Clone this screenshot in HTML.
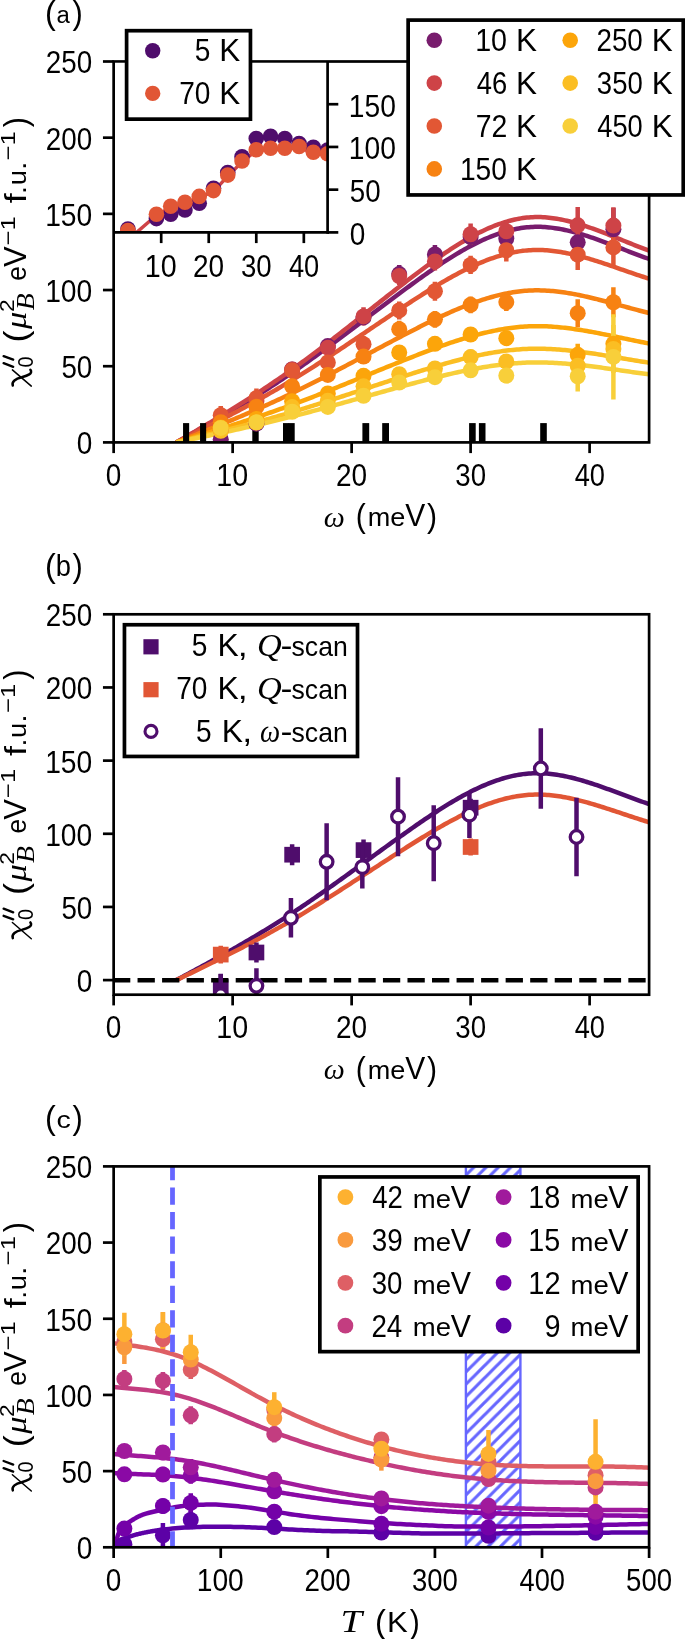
<!DOCTYPE html><html><head><meta charset="utf-8"><title>chi</title><style>html,body{margin:0;padding:0;background:#fff;}body{width:685px;height:1639px;overflow:hidden;font-family:"Liberation Sans",sans-serif;}svg{display:block;will-change:transform;}</style></head><body><svg width="685" height="1639" viewBox="0 0 685 1639"><defs><clipPath id="ca"><rect x="113.65" y="61.5" width="535.45" height="380.9"/></clipPath><clipPath id="ci"><rect x="113.65" y="61.5" width="213.95" height="170.9"/></clipPath><clipPath id="cb"><rect x="113.65" y="614.3" width="535.45" height="380.4"/></clipPath><clipPath id="cc"><rect x="113.65" y="1166.4" width="535.45" height="380.9"/></clipPath><pattern id="hatch" patternUnits="userSpaceOnUse" width="12.3" height="12.3" patternTransform="translate(5.2 0)"><path d="M-3 3 L3 -3 M0 12.3 L12.3 0 M9.3 15.3 L15.3 9.3" stroke="#6666ff" stroke-width="3.1"/></pattern></defs><rect width="685" height="1639" fill="#fff"/><path d="M176.36 442.4 L178.36 441.28 L180.36 440.17 L182.37 439.05 L184.37 437.93 L186.37 436.81 L188.37 435.68 L190.38 434.56 L192.38 433.43 L194.38 432.31 L196.39 431.18 L198.39 430.05 L200.39 428.91 L202.39 427.78 L204.4 426.64 L206.4 425.5 L208.4 424.36 L210.41 423.21 L212.41 422.06 L214.41 420.91 L216.42 419.76 L218.42 418.6 L220.42 417.44 L222.42 416.27 L224.43 415.1 L226.43 413.93 L228.43 412.76 L230.44 411.58 L232.44 410.39 L234.44 409.2 L236.44 408.01 L238.45 406.81 L240.45 405.61 L242.45 404.41 L244.46 403.19 L246.46 401.98 L248.46 400.76 L250.46 399.53 L252.47 398.3 L254.47 397.06 L256.47 395.82 L258.48 394.57 L260.48 393.31 L262.48 392.05 L264.48 390.79 L266.49 389.51 L268.49 388.23 L270.49 386.95 L272.5 385.66 L274.5 384.36 L276.5 383.05 L278.5 381.74 L280.51 380.42 L282.51 379.09 L284.51 377.75 L286.52 376.41 L288.52 375.06 L290.52 373.7 L292.53 372.34 L294.53 370.97 L296.53 369.58 L298.53 368.2 L300.54 366.8 L302.54 365.4 L304.54 363.99 L306.55 362.57 L308.55 361.15 L310.55 359.72 L312.55 358.28 L314.56 356.84 L316.56 355.4 L318.56 353.95 L320.57 352.49 L322.57 351.03 L324.57 349.56 L326.57 348.09 L328.58 346.62 L330.58 345.14 L332.58 343.65 L334.59 342.17 L336.59 340.68 L338.59 339.18 L340.59 337.69 L342.6 336.19 L344.6 334.69 L346.6 333.18 L348.61 331.68 L350.61 330.17 L352.61 328.66 L354.61 327.15 L356.62 325.64 L358.62 324.12 L360.62 322.61 L362.63 321.09 L364.63 319.58 L366.63 318.06 L368.64 316.55 L370.64 315.03 L372.64 313.52 L374.64 312 L376.65 310.49 L378.65 308.98 L380.65 307.47 L382.66 305.96 L384.66 304.45 L386.66 302.95 L388.66 301.44 L390.67 299.94 L392.67 298.44 L394.67 296.95 L396.68 295.46 L398.68 293.97 L400.68 292.48 L402.68 291 L404.69 289.52 L406.69 288.05 L408.69 286.58 L410.7 285.11 L412.7 283.65 L414.7 282.2 L416.7 280.75 L418.71 279.3 L420.71 277.87 L422.71 276.44 L424.72 275.02 L426.72 273.61 L428.72 272.21 L430.73 270.81 L432.73 269.43 L434.73 268.06 L436.73 266.7 L438.74 265.36 L440.74 264.03 L442.74 262.71 L444.75 261.4 L446.75 260.11 L448.75 258.83 L450.75 257.57 L452.76 256.33 L454.76 255.11 L456.76 253.9 L458.77 252.71 L460.77 251.54 L462.77 250.38 L464.77 249.25 L466.78 248.14 L468.78 247.05 L470.78 245.98 L472.79 244.94 L474.79 243.91 L476.79 242.91 L478.79 241.94 L480.8 240.99 L482.8 240.06 L484.8 239.16 L486.81 238.29 L488.81 237.45 L490.81 236.63 L492.81 235.84 L494.82 235.08 L496.82 234.35 L498.82 233.65 L500.83 232.98 L502.83 232.34 L504.83 231.73 L506.84 231.15 L508.84 230.61 L510.84 230.1 L512.84 229.63 L514.85 229.19 L516.85 228.79 L518.85 228.42 L520.86 228.09 L522.86 227.79 L524.86 227.53 L526.86 227.32 L528.87 227.14 L530.87 227 L532.87 226.9 L534.88 226.83 L536.88 226.81 L538.88 226.82 L540.88 226.87 L542.89 226.96 L544.89 227.08 L546.89 227.23 L548.9 227.41 L550.9 227.63 L552.9 227.88 L554.9 228.15 L556.91 228.46 L558.91 228.79 L560.91 229.16 L562.92 229.54 L564.92 229.96 L566.92 230.4 L568.92 230.86 L570.93 231.34 L572.93 231.85 L574.93 232.38 L576.94 232.93 L578.94 233.5 L580.94 234.09 L582.95 234.69 L584.95 235.31 L586.95 235.95 L588.95 236.61 L590.96 237.27 L592.96 237.96 L594.96 238.65 L596.97 239.36 L598.97 240.07 L600.97 240.8 L602.97 241.53 L604.98 242.28 L606.98 243.03 L608.98 243.79 L610.99 244.55 L612.99 245.32 L614.99 246.09 L616.99 246.86 L619 247.64 L621 248.42 L623 249.2 L625.01 249.98 L627.01 250.75 L629.01 251.53 L631.01 252.3 L633.02 253.07 L635.02 253.83 L637.02 254.59 L639.03 255.34 L641.03 256.08 L643.03 256.81 L645.03 257.54 L647.04 258.25 L649.04 258.96 L651.04 259.65 L653.05 260.33 L655.05 261" fill="none" stroke="#781c6d" stroke-width="4.5" stroke-linejoin="round" stroke-linecap="butt" clip-path="url(#ca)"/>
<path d="M176.36 442.4 L178.36 441.23 L180.36 440.06 L182.37 438.9 L184.37 437.72 L186.37 436.55 L188.37 435.38 L190.38 434.2 L192.38 433.03 L194.38 431.85 L196.39 430.67 L198.39 429.49 L200.39 428.3 L202.39 427.12 L204.4 425.93 L206.4 424.74 L208.4 423.54 L210.41 422.34 L212.41 421.14 L214.41 419.94 L216.42 418.73 L218.42 417.52 L220.42 416.31 L222.42 415.09 L224.43 413.87 L226.43 412.64 L228.43 411.42 L230.44 410.18 L232.44 408.94 L234.44 407.7 L236.44 406.46 L238.45 405.2 L240.45 403.95 L242.45 402.69 L244.46 401.42 L246.46 400.15 L248.46 398.87 L250.46 397.59 L252.47 396.3 L254.47 395.01 L256.47 393.71 L258.48 392.4 L260.48 391.09 L262.48 389.78 L264.48 388.45 L266.49 387.12 L268.49 385.78 L270.49 384.44 L272.5 383.09 L274.5 381.73 L276.5 380.37 L278.5 378.99 L280.51 377.61 L282.51 376.23 L284.51 374.83 L286.52 373.43 L288.52 372.02 L290.52 370.6 L292.53 369.17 L294.53 367.73 L296.53 366.29 L298.53 364.84 L300.54 363.38 L302.54 361.91 L304.54 360.44 L306.55 358.96 L308.55 357.47 L310.55 355.98 L312.55 354.48 L314.56 352.97 L316.56 351.46 L318.56 349.95 L320.57 348.42 L322.57 346.89 L324.57 345.36 L326.57 343.82 L328.58 342.28 L330.58 340.74 L332.58 339.19 L334.59 337.63 L336.59 336.08 L338.59 334.51 L340.59 332.95 L342.6 331.38 L344.6 329.81 L346.6 328.24 L348.61 326.67 L350.61 325.09 L352.61 323.51 L354.61 321.94 L356.62 320.35 L358.62 318.77 L360.62 317.19 L362.63 315.61 L364.63 314.02 L366.63 312.44 L368.64 310.86 L370.64 309.27 L372.64 307.69 L374.64 306.11 L376.65 304.52 L378.65 302.94 L380.65 301.37 L382.66 299.79 L384.66 298.21 L386.66 296.64 L388.66 295.07 L390.67 293.5 L392.67 291.93 L394.67 290.37 L396.68 288.81 L398.68 287.25 L400.68 285.7 L402.68 284.15 L404.69 282.61 L406.69 281.06 L408.69 279.53 L410.7 278 L412.7 276.47 L414.7 274.95 L416.7 273.43 L418.71 271.93 L420.71 270.43 L422.71 268.93 L424.72 267.45 L426.72 265.97 L428.72 264.51 L430.73 263.05 L432.73 261.61 L434.73 260.18 L436.73 258.76 L438.74 257.35 L440.74 255.96 L442.74 254.58 L444.75 253.21 L446.75 251.86 L448.75 250.53 L450.75 249.21 L452.76 247.92 L454.76 246.63 L456.76 245.37 L458.77 244.13 L460.77 242.9 L462.77 241.7 L464.77 240.52 L466.78 239.35 L468.78 238.21 L470.78 237.1 L472.79 236.01 L474.79 234.94 L476.79 233.89 L478.79 232.87 L480.8 231.88 L482.8 230.91 L484.8 229.97 L486.81 229.06 L488.81 228.18 L490.81 227.32 L492.81 226.5 L494.82 225.7 L496.82 224.94 L498.82 224.2 L500.83 223.5 L502.83 222.83 L504.83 222.2 L506.84 221.6 L508.84 221.03 L510.84 220.5 L512.84 220.01 L514.85 219.55 L516.85 219.12 L518.85 218.74 L520.86 218.39 L522.86 218.08 L524.86 217.82 L526.86 217.59 L528.87 217.4 L530.87 217.25 L532.87 217.15 L534.88 217.09 L536.88 217.06 L538.88 217.07 L540.88 217.12 L542.89 217.21 L544.89 217.34 L546.89 217.5 L548.9 217.69 L550.9 217.91 L552.9 218.17 L554.9 218.46 L556.91 218.78 L558.91 219.13 L560.91 219.51 L562.92 219.92 L564.92 220.35 L566.92 220.81 L568.92 221.29 L570.93 221.8 L572.93 222.33 L574.93 222.88 L576.94 223.46 L578.94 224.05 L580.94 224.67 L582.95 225.3 L584.95 225.95 L586.95 226.62 L588.95 227.3 L590.96 228 L592.96 228.71 L594.96 229.43 L596.97 230.17 L598.97 230.92 L600.97 231.68 L602.97 232.45 L604.98 233.23 L606.98 234.01 L608.98 234.8 L610.99 235.6 L612.99 236.4 L614.99 237.21 L616.99 238.02 L619 238.83 L621 239.64 L623 240.46 L625.01 241.27 L627.01 242.08 L629.01 242.89 L631.01 243.7 L633.02 244.5 L635.02 245.3 L637.02 246.09 L639.03 246.87 L641.03 247.65 L643.03 248.42 L645.03 249.18 L647.04 249.93 L649.04 250.66 L651.04 251.39 L653.05 252.1 L655.05 252.79" fill="none" stroke="#ce4347" stroke-width="4.5" stroke-linejoin="round" stroke-linecap="butt" clip-path="url(#ca)"/>
<path d="M176.36 442.4 L178.36 441.4 L180.36 440.41 L182.37 439.41 L184.37 438.41 L186.37 437.41 L188.37 436.4 L190.38 435.4 L192.38 434.4 L194.38 433.39 L196.39 432.38 L198.39 431.37 L200.39 430.36 L202.39 429.35 L204.4 428.33 L206.4 427.32 L208.4 426.29 L210.41 425.27 L212.41 424.25 L214.41 423.22 L216.42 422.19 L218.42 421.16 L220.42 420.12 L222.42 419.08 L224.43 418.04 L226.43 416.99 L228.43 415.94 L230.44 414.89 L232.44 413.83 L234.44 412.77 L236.44 411.71 L238.45 410.64 L240.45 409.56 L242.45 408.49 L244.46 407.41 L246.46 406.32 L248.46 405.23 L250.46 404.13 L252.47 403.04 L254.47 401.93 L256.47 400.82 L258.48 399.71 L260.48 398.59 L262.48 397.46 L264.48 396.33 L266.49 395.19 L268.49 394.05 L270.49 392.9 L272.5 391.75 L274.5 390.59 L276.5 389.43 L278.5 388.25 L280.51 387.07 L282.51 385.89 L284.51 384.7 L286.52 383.5 L288.52 382.3 L290.52 381.08 L292.53 379.86 L294.53 378.64 L296.53 377.41 L298.53 376.17 L300.54 374.92 L302.54 373.67 L304.54 372.41 L306.55 371.15 L308.55 369.88 L310.55 368.6 L312.55 367.32 L314.56 366.03 L316.56 364.74 L318.56 363.45 L320.57 362.15 L322.57 360.84 L324.57 359.53 L326.57 358.22 L328.58 356.9 L330.58 355.58 L332.58 354.26 L334.59 352.93 L336.59 351.6 L338.59 350.27 L340.59 348.94 L342.6 347.6 L344.6 346.26 L346.6 344.91 L348.61 343.57 L350.61 342.22 L352.61 340.88 L354.61 339.53 L356.62 338.18 L358.62 336.83 L360.62 335.48 L362.63 334.12 L364.63 332.77 L366.63 331.42 L368.64 330.07 L370.64 328.71 L372.64 327.36 L374.64 326.01 L376.65 324.66 L378.65 323.31 L380.65 321.96 L382.66 320.62 L384.66 319.27 L386.66 317.93 L388.66 316.58 L390.67 315.24 L392.67 313.91 L394.67 312.57 L396.68 311.24 L398.68 309.91 L400.68 308.58 L402.68 307.26 L404.69 305.94 L406.69 304.63 L408.69 303.31 L410.7 302.01 L412.7 300.7 L414.7 299.4 L416.7 298.11 L418.71 296.82 L420.71 295.54 L422.71 294.27 L424.72 293 L426.72 291.74 L428.72 290.49 L430.73 289.25 L432.73 288.01 L434.73 286.79 L436.73 285.58 L438.74 284.38 L440.74 283.19 L442.74 282.01 L444.75 280.84 L446.75 279.69 L448.75 278.55 L450.75 277.43 L452.76 276.32 L454.76 275.22 L456.76 274.15 L458.77 273.08 L460.77 272.04 L462.77 271.01 L464.77 270 L466.78 269.01 L468.78 268.03 L470.78 267.08 L472.79 266.15 L474.79 265.23 L476.79 264.34 L478.79 263.47 L480.8 262.62 L482.8 261.8 L484.8 261 L486.81 260.22 L488.81 259.46 L490.81 258.73 L492.81 258.03 L494.82 257.35 L496.82 256.7 L498.82 256.07 L500.83 255.47 L502.83 254.9 L504.83 254.36 L506.84 253.85 L508.84 253.36 L510.84 252.91 L512.84 252.48 L514.85 252.09 L516.85 251.73 L518.85 251.4 L520.86 251.11 L522.86 250.84 L524.86 250.62 L526.86 250.42 L528.87 250.26 L530.87 250.14 L532.87 250.05 L534.88 249.99 L536.88 249.97 L538.88 249.98 L540.88 250.03 L542.89 250.1 L544.89 250.21 L546.89 250.34 L548.9 250.51 L550.9 250.7 L552.9 250.92 L554.9 251.17 L556.91 251.44 L558.91 251.74 L560.91 252.06 L562.92 252.41 L564.92 252.78 L566.92 253.17 L568.92 253.58 L570.93 254.02 L572.93 254.47 L574.93 254.94 L576.94 255.43 L578.94 255.94 L580.94 256.46 L582.95 257 L584.95 257.56 L586.95 258.13 L588.95 258.71 L590.96 259.31 L592.96 259.92 L594.96 260.54 L596.97 261.17 L598.97 261.81 L600.97 262.45 L602.97 263.11 L604.98 263.77 L606.98 264.45 L608.98 265.12 L610.99 265.8 L612.99 266.49 L614.99 267.18 L616.99 267.87 L619 268.56 L621 269.26 L623 269.95 L625.01 270.65 L627.01 271.34 L629.01 272.03 L631.01 272.72 L633.02 273.4 L635.02 274.08 L637.02 274.76 L639.03 275.43 L641.03 276.09 L643.03 276.75 L645.03 277.4 L647.04 278.04 L649.04 278.66 L651.04 279.28 L653.05 279.89 L655.05 280.48" fill="none" stroke="#e25734" stroke-width="4.5" stroke-linejoin="round" stroke-linecap="butt" clip-path="url(#ca)"/>
<path d="M176.36 442.4 L178.36 441.61 L180.36 440.82 L182.37 440.03 L184.37 439.25 L186.37 438.45 L188.37 437.66 L190.38 436.87 L192.38 436.08 L194.38 435.28 L196.39 434.48 L198.39 433.69 L200.39 432.89 L202.39 432.09 L204.4 431.28 L206.4 430.48 L208.4 429.67 L210.41 428.87 L212.41 428.06 L214.41 427.24 L216.42 426.43 L218.42 425.61 L220.42 424.79 L222.42 423.97 L224.43 423.15 L226.43 422.32 L228.43 421.49 L230.44 420.66 L232.44 419.82 L234.44 418.99 L236.44 418.15 L238.45 417.3 L240.45 416.45 L242.45 415.6 L244.46 414.75 L246.46 413.89 L248.46 413.03 L250.46 412.16 L252.47 411.29 L254.47 410.42 L256.47 409.55 L258.48 408.66 L260.48 407.78 L262.48 406.89 L264.48 406 L266.49 405.1 L268.49 404.2 L270.49 403.29 L272.5 402.38 L274.5 401.46 L276.5 400.54 L278.5 399.61 L280.51 398.68 L282.51 397.75 L284.51 396.81 L286.52 395.86 L288.52 394.91 L290.52 393.95 L292.53 392.99 L294.53 392.02 L296.53 391.04 L298.53 390.06 L300.54 389.08 L302.54 388.09 L304.54 387.1 L306.55 386.1 L308.55 385.09 L310.55 384.09 L312.55 383.07 L314.56 382.06 L316.56 381.04 L318.56 380.01 L320.57 378.99 L322.57 377.95 L324.57 376.92 L326.57 375.88 L328.58 374.84 L330.58 373.8 L332.58 372.75 L334.59 371.71 L336.59 370.65 L338.59 369.6 L340.59 368.55 L342.6 367.49 L344.6 366.43 L346.6 365.37 L348.61 364.31 L350.61 363.24 L352.61 362.18 L354.61 361.11 L356.62 360.05 L358.62 358.98 L360.62 357.91 L362.63 356.84 L364.63 355.77 L366.63 354.71 L368.64 353.64 L370.64 352.57 L372.64 351.5 L374.64 350.43 L376.65 349.36 L378.65 348.3 L380.65 347.23 L382.66 346.17 L384.66 345.1 L386.66 344.04 L388.66 342.98 L390.67 341.92 L392.67 340.87 L394.67 339.81 L396.68 338.76 L398.68 337.71 L400.68 336.66 L402.68 335.62 L404.69 334.57 L406.69 333.53 L408.69 332.5 L410.7 331.46 L412.7 330.43 L414.7 329.41 L416.7 328.39 L418.71 327.37 L420.71 326.36 L422.71 325.35 L424.72 324.35 L426.72 323.35 L428.72 322.36 L430.73 321.38 L432.73 320.41 L434.73 319.44 L436.73 318.48 L438.74 317.53 L440.74 316.59 L442.74 315.66 L444.75 314.74 L446.75 313.83 L448.75 312.93 L450.75 312.04 L452.76 311.17 L454.76 310.3 L456.76 309.45 L458.77 308.61 L460.77 307.78 L462.77 306.97 L464.77 306.17 L466.78 305.39 L468.78 304.62 L470.78 303.87 L472.79 303.13 L474.79 302.41 L476.79 301.7 L478.79 301.01 L480.8 300.34 L482.8 299.69 L484.8 299.06 L486.81 298.44 L488.81 297.85 L490.81 297.27 L492.81 296.71 L494.82 296.18 L496.82 295.66 L498.82 295.17 L500.83 294.69 L502.83 294.24 L504.83 293.81 L506.84 293.41 L508.84 293.03 L510.84 292.67 L512.84 292.33 L514.85 292.02 L516.85 291.74 L518.85 291.48 L520.86 291.24 L522.86 291.04 L524.86 290.86 L526.86 290.7 L528.87 290.57 L530.87 290.48 L532.87 290.41 L534.88 290.36 L536.88 290.34 L538.88 290.35 L540.88 290.39 L542.89 290.45 L544.89 290.53 L546.89 290.64 L548.9 290.77 L550.9 290.92 L552.9 291.1 L554.9 291.29 L556.91 291.51 L558.91 291.74 L560.91 292 L562.92 292.27 L564.92 292.56 L566.92 292.87 L568.92 293.2 L570.93 293.54 L572.93 293.9 L574.93 294.27 L576.94 294.66 L578.94 295.06 L580.94 295.48 L582.95 295.9 L584.95 296.34 L586.95 296.79 L588.95 297.25 L590.96 297.72 L592.96 298.21 L594.96 298.69 L596.97 299.19 L598.97 299.7 L600.97 300.21 L602.97 300.73 L604.98 301.25 L606.98 301.78 L608.98 302.32 L610.99 302.86 L612.99 303.4 L614.99 303.94 L616.99 304.49 L619 305.04 L621 305.58 L623 306.13 L625.01 306.68 L627.01 307.23 L629.01 307.78 L631.01 308.32 L633.02 308.86 L635.02 309.4 L637.02 309.93 L639.03 310.46 L641.03 310.99 L643.03 311.51 L645.03 312.02 L647.04 312.52 L649.04 313.02 L651.04 313.51 L653.05 313.99 L655.05 314.46" fill="none" stroke="#f78212" stroke-width="4.5" stroke-linejoin="round" stroke-linecap="butt" clip-path="url(#ca)"/>
<path d="M176.36 442.4 L178.36 441.8 L180.36 441.2 L182.37 440.59 L184.37 439.99 L186.37 439.38 L188.37 438.78 L190.38 438.17 L192.38 437.57 L194.38 436.96 L196.39 436.35 L198.39 435.74 L200.39 435.13 L202.39 434.52 L204.4 433.9 L206.4 433.29 L208.4 432.67 L210.41 432.05 L212.41 431.43 L214.41 430.81 L216.42 430.19 L218.42 429.57 L220.42 428.94 L222.42 428.31 L224.43 427.68 L226.43 427.05 L228.43 426.42 L230.44 425.78 L232.44 425.14 L234.44 424.5 L236.44 423.86 L238.45 423.21 L240.45 422.56 L242.45 421.91 L244.46 421.26 L246.46 420.6 L248.46 419.94 L250.46 419.28 L252.47 418.62 L254.47 417.95 L256.47 417.28 L258.48 416.61 L260.48 415.93 L262.48 415.25 L264.48 414.57 L266.49 413.88 L268.49 413.19 L270.49 412.5 L272.5 411.8 L274.5 411.1 L276.5 410.4 L278.5 409.69 L280.51 408.98 L282.51 408.26 L284.51 407.54 L286.52 406.82 L288.52 406.09 L290.52 405.36 L292.53 404.62 L294.53 403.88 L296.53 403.14 L298.53 402.39 L300.54 401.63 L302.54 400.88 L304.54 400.12 L306.55 399.35 L308.55 398.59 L310.55 397.82 L312.55 397.04 L314.56 396.27 L316.56 395.49 L318.56 394.7 L320.57 393.92 L322.57 393.13 L324.57 392.34 L326.57 391.55 L328.58 390.75 L330.58 389.95 L332.58 389.15 L334.59 388.35 L336.59 387.55 L338.59 386.74 L340.59 385.94 L342.6 385.13 L344.6 384.32 L346.6 383.51 L348.61 382.7 L350.61 381.88 L352.61 381.07 L354.61 380.25 L356.62 379.44 L358.62 378.62 L360.62 377.81 L362.63 376.99 L364.63 376.17 L366.63 375.35 L368.64 374.54 L370.64 373.72 L372.64 372.9 L374.64 372.09 L376.65 371.27 L378.65 370.46 L380.65 369.64 L382.66 368.83 L384.66 368.01 L386.66 367.2 L388.66 366.39 L390.67 365.58 L392.67 364.78 L394.67 363.97 L396.68 363.16 L398.68 362.36 L400.68 361.56 L402.68 360.76 L404.69 359.96 L406.69 359.17 L408.69 358.38 L410.7 357.59 L412.7 356.8 L414.7 356.01 L416.7 355.23 L418.71 354.45 L420.71 353.68 L422.71 352.91 L424.72 352.14 L426.72 351.38 L428.72 350.63 L430.73 349.88 L432.73 349.13 L434.73 348.39 L436.73 347.66 L438.74 346.94 L440.74 346.22 L442.74 345.5 L444.75 344.8 L446.75 344.1 L448.75 343.42 L450.75 342.74 L452.76 342.07 L454.76 341.41 L456.76 340.75 L458.77 340.11 L460.77 339.48 L462.77 338.86 L464.77 338.25 L466.78 337.65 L468.78 337.06 L470.78 336.49 L472.79 335.92 L474.79 335.37 L476.79 334.83 L478.79 334.31 L480.8 333.79 L482.8 333.3 L484.8 332.81 L486.81 332.34 L488.81 331.88 L490.81 331.44 L492.81 331.02 L494.82 330.61 L496.82 330.21 L498.82 329.83 L500.83 329.47 L502.83 329.13 L504.83 328.8 L506.84 328.49 L508.84 328.2 L510.84 327.92 L512.84 327.67 L514.85 327.43 L516.85 327.21 L518.85 327.02 L520.86 326.84 L522.86 326.68 L524.86 326.54 L526.86 326.42 L528.87 326.33 L530.87 326.25 L532.87 326.2 L534.88 326.16 L536.88 326.15 L538.88 326.16 L540.88 326.18 L542.89 326.23 L544.89 326.29 L546.89 326.37 L548.9 326.47 L550.9 326.59 L552.9 326.72 L554.9 326.87 L556.91 327.04 L558.91 327.22 L560.91 327.41 L562.92 327.62 L564.92 327.85 L566.92 328.08 L568.92 328.33 L570.93 328.59 L572.93 328.87 L574.93 329.15 L576.94 329.45 L578.94 329.76 L580.94 330.07 L582.95 330.4 L584.95 330.73 L586.95 331.08 L588.95 331.43 L590.96 331.79 L592.96 332.16 L594.96 332.53 L596.97 332.91 L598.97 333.3 L600.97 333.69 L602.97 334.09 L604.98 334.49 L606.98 334.89 L608.98 335.3 L610.99 335.71 L612.99 336.13 L614.99 336.54 L616.99 336.96 L619 337.38 L621 337.8 L623 338.22 L625.01 338.64 L627.01 339.06 L629.01 339.48 L631.01 339.89 L633.02 340.31 L635.02 340.72 L637.02 341.13 L639.03 341.53 L641.03 341.93 L643.03 342.33 L645.03 342.72 L647.04 343.1 L649.04 343.48 L651.04 343.86 L653.05 344.22 L655.05 344.58" fill="none" stroke="#fca50a" stroke-width="4.5" stroke-linejoin="round" stroke-linecap="butt" clip-path="url(#ca)"/>
<path d="M176.36 442.4 L178.36 441.91 L180.36 441.43 L182.37 440.94 L184.37 440.46 L186.37 439.97 L188.37 439.48 L190.38 438.99 L192.38 438.5 L194.38 438.01 L196.39 437.52 L198.39 437.03 L200.39 436.54 L202.39 436.04 L204.4 435.55 L206.4 435.05 L208.4 434.56 L210.41 434.06 L212.41 433.56 L214.41 433.06 L216.42 432.56 L218.42 432.06 L220.42 431.55 L222.42 431.04 L224.43 430.54 L226.43 430.03 L228.43 429.52 L230.44 429 L232.44 428.49 L234.44 427.97 L236.44 427.45 L238.45 426.93 L240.45 426.41 L242.45 425.89 L244.46 425.36 L246.46 424.83 L248.46 424.3 L250.46 423.77 L252.47 423.23 L254.47 422.69 L256.47 422.15 L258.48 421.61 L260.48 421.07 L262.48 420.52 L264.48 419.97 L266.49 419.41 L268.49 418.86 L270.49 418.3 L272.5 417.74 L274.5 417.17 L276.5 416.6 L278.5 416.03 L280.51 415.46 L282.51 414.88 L284.51 414.3 L286.52 413.72 L288.52 413.13 L290.52 412.54 L292.53 411.95 L294.53 411.35 L296.53 410.75 L298.53 410.15 L300.54 409.54 L302.54 408.93 L304.54 408.32 L306.55 407.7 L308.55 407.09 L310.55 406.46 L312.55 405.84 L314.56 405.21 L316.56 404.59 L318.56 403.96 L320.57 403.32 L322.57 402.69 L324.57 402.05 L326.57 401.41 L328.58 400.77 L330.58 400.13 L332.58 399.48 L334.59 398.84 L336.59 398.19 L338.59 397.54 L340.59 396.89 L342.6 396.24 L344.6 395.58 L346.6 394.93 L348.61 394.28 L350.61 393.62 L352.61 392.96 L354.61 392.31 L356.62 391.65 L358.62 390.99 L360.62 390.34 L362.63 389.68 L364.63 389.02 L366.63 388.36 L368.64 387.7 L370.64 387.04 L372.64 386.38 L374.64 385.73 L376.65 385.07 L378.65 384.41 L380.65 383.75 L382.66 383.1 L384.66 382.44 L386.66 381.79 L388.66 381.14 L390.67 380.48 L392.67 379.83 L394.67 379.18 L396.68 378.53 L398.68 377.89 L400.68 377.24 L402.68 376.6 L404.69 375.95 L406.69 375.31 L408.69 374.67 L410.7 374.04 L412.7 373.4 L414.7 372.77 L416.7 372.14 L418.71 371.51 L420.71 370.89 L422.71 370.27 L424.72 369.65 L426.72 369.04 L428.72 368.43 L430.73 367.82 L432.73 367.22 L434.73 366.63 L436.73 366.04 L438.74 365.45 L440.74 364.87 L442.74 364.3 L444.75 363.73 L446.75 363.17 L448.75 362.62 L450.75 362.07 L452.76 361.53 L454.76 361 L456.76 360.47 L458.77 359.95 L460.77 359.44 L462.77 358.94 L464.77 358.45 L466.78 357.97 L468.78 357.5 L470.78 357.03 L472.79 356.58 L474.79 356.13 L476.79 355.7 L478.79 355.27 L480.8 354.86 L482.8 354.46 L484.8 354.07 L486.81 353.69 L488.81 353.32 L490.81 352.97 L492.81 352.62 L494.82 352.29 L496.82 351.97 L498.82 351.67 L500.83 351.38 L502.83 351.1 L504.83 350.84 L506.84 350.59 L508.84 350.35 L510.84 350.13 L512.84 349.92 L514.85 349.73 L516.85 349.56 L518.85 349.4 L520.86 349.25 L522.86 349.12 L524.86 349.01 L526.86 348.92 L528.87 348.84 L530.87 348.78 L532.87 348.74 L534.88 348.71 L536.88 348.7 L538.88 348.7 L540.88 348.73 L542.89 348.76 L544.89 348.81 L546.89 348.88 L548.9 348.96 L550.9 349.05 L552.9 349.16 L554.9 349.28 L556.91 349.42 L558.91 349.56 L560.91 349.72 L562.92 349.89 L564.92 350.07 L566.92 350.26 L568.92 350.46 L570.93 350.67 L572.93 350.89 L574.93 351.12 L576.94 351.36 L578.94 351.61 L580.94 351.86 L582.95 352.12 L584.95 352.39 L586.95 352.67 L588.95 352.96 L590.96 353.25 L592.96 353.54 L594.96 353.84 L596.97 354.15 L598.97 354.46 L600.97 354.78 L602.97 355.1 L604.98 355.42 L606.98 355.75 L608.98 356.08 L610.99 356.41 L612.99 356.74 L614.99 357.08 L616.99 357.41 L619 357.75 L621 358.09 L623 358.43 L625.01 358.77 L627.01 359.1 L629.01 359.44 L631.01 359.78 L633.02 360.11 L635.02 360.44 L637.02 360.77 L639.03 361.1 L641.03 361.42 L643.03 361.74 L645.03 362.05 L647.04 362.36 L649.04 362.67 L651.04 362.97 L653.05 363.27 L655.05 363.56" fill="none" stroke="#fbbe23" stroke-width="4.5" stroke-linejoin="round" stroke-linecap="butt" clip-path="url(#ca)"/>
<path d="M176.36 442.4 L178.36 441.99 L180.36 441.57 L182.37 441.16 L184.37 440.74 L186.37 440.32 L188.37 439.91 L190.38 439.49 L192.38 439.07 L194.38 438.66 L196.39 438.24 L198.39 437.82 L200.39 437.4 L202.39 436.97 L204.4 436.55 L206.4 436.13 L208.4 435.71 L210.41 435.28 L212.41 434.85 L214.41 434.43 L216.42 434 L218.42 433.57 L220.42 433.14 L222.42 432.71 L224.43 432.27 L226.43 431.84 L228.43 431.4 L230.44 430.96 L232.44 430.52 L234.44 430.08 L236.44 429.64 L238.45 429.2 L240.45 428.75 L242.45 428.3 L244.46 427.85 L246.46 427.4 L248.46 426.95 L250.46 426.49 L252.47 426.04 L254.47 425.58 L256.47 425.12 L258.48 424.65 L260.48 424.19 L262.48 423.72 L264.48 423.25 L266.49 422.78 L268.49 422.3 L270.49 421.83 L272.5 421.35 L274.5 420.86 L276.5 420.38 L278.5 419.89 L280.51 419.4 L282.51 418.91 L284.51 418.41 L286.52 417.92 L288.52 417.42 L290.52 416.91 L292.53 416.41 L294.53 415.9 L296.53 415.38 L298.53 414.87 L300.54 414.35 L302.54 413.83 L304.54 413.31 L306.55 412.78 L308.55 412.25 L310.55 411.72 L312.55 411.19 L314.56 410.66 L316.56 410.12 L318.56 409.58 L320.57 409.04 L322.57 408.5 L324.57 407.95 L326.57 407.41 L328.58 406.86 L330.58 406.31 L332.58 405.76 L334.59 405.21 L336.59 404.66 L338.59 404.1 L340.59 403.55 L342.6 402.99 L344.6 402.44 L346.6 401.88 L348.61 401.32 L350.61 400.76 L352.61 400.2 L354.61 399.64 L356.62 399.08 L358.62 398.52 L360.62 397.95 L362.63 397.39 L364.63 396.83 L366.63 396.27 L368.64 395.71 L370.64 395.14 L372.64 394.58 L374.64 394.02 L376.65 393.46 L378.65 392.9 L380.65 392.34 L382.66 391.78 L384.66 391.22 L386.66 390.66 L388.66 390.1 L390.67 389.54 L392.67 388.99 L394.67 388.43 L396.68 387.88 L398.68 387.33 L400.68 386.78 L402.68 386.23 L404.69 385.68 L406.69 385.13 L408.69 384.59 L410.7 384.04 L412.7 383.5 L414.7 382.96 L416.7 382.42 L418.71 381.89 L420.71 381.35 L422.71 380.82 L424.72 380.3 L426.72 379.77 L428.72 379.25 L430.73 378.74 L432.73 378.22 L434.73 377.72 L436.73 377.21 L438.74 376.71 L440.74 376.22 L442.74 375.73 L444.75 375.24 L446.75 374.77 L448.75 374.29 L450.75 373.83 L452.76 373.36 L454.76 372.91 L456.76 372.46 L458.77 372.02 L460.77 371.58 L462.77 371.16 L464.77 370.74 L466.78 370.32 L468.78 369.92 L470.78 369.52 L472.79 369.14 L474.79 368.76 L476.79 368.39 L478.79 368.02 L480.8 367.67 L482.8 367.33 L484.8 366.99 L486.81 366.67 L488.81 366.36 L490.81 366.05 L492.81 365.76 L494.82 365.48 L496.82 365.21 L498.82 364.95 L500.83 364.7 L502.83 364.46 L504.83 364.24 L506.84 364.02 L508.84 363.82 L510.84 363.63 L512.84 363.46 L514.85 363.29 L516.85 363.14 L518.85 363.01 L520.86 362.88 L522.86 362.77 L524.86 362.68 L526.86 362.6 L528.87 362.53 L530.87 362.48 L532.87 362.44 L534.88 362.42 L536.88 362.41 L538.88 362.42 L540.88 362.43 L542.89 362.47 L544.89 362.51 L546.89 362.57 L548.9 362.63 L550.9 362.71 L552.9 362.81 L554.9 362.91 L556.91 363.02 L558.91 363.15 L560.91 363.28 L562.92 363.43 L564.92 363.58 L566.92 363.74 L568.92 363.91 L570.93 364.09 L572.93 364.28 L574.93 364.48 L576.94 364.68 L578.94 364.89 L580.94 365.11 L582.95 365.34 L584.95 365.57 L586.95 365.8 L588.95 366.05 L590.96 366.29 L592.96 366.55 L594.96 366.8 L596.97 367.07 L598.97 367.33 L600.97 367.6 L602.97 367.87 L604.98 368.15 L606.98 368.43 L608.98 368.71 L610.99 368.99 L612.99 369.28 L614.99 369.56 L616.99 369.85 L619 370.14 L621 370.43 L623 370.72 L625.01 371.01 L627.01 371.29 L629.01 371.58 L631.01 371.87 L633.02 372.15 L635.02 372.44 L637.02 372.72 L639.03 372.99 L641.03 373.27 L643.03 373.54 L645.03 373.81 L647.04 374.08 L649.04 374.34 L651.04 374.6 L653.05 374.85 L655.05 375.1" fill="none" stroke="#f8cf3a" stroke-width="4.5" stroke-linejoin="round" stroke-linecap="butt" clip-path="url(#ca)"/>
<rect x="183.05" y="423.1" width="6.1" height="19.3" fill="#000"/>
<rect x="200.05" y="423.1" width="6.1" height="19.3" fill="#000"/>
<rect x="252.3" y="423.1" width="6.4" height="19.3" fill="#000"/>
<rect x="283" y="423.1" width="6.2" height="19.3" fill="#000"/>
<rect x="288.5" y="423.1" width="6.2" height="19.3" fill="#000"/>
<rect x="362.4" y="423.1" width="6.8" height="19.3" fill="#000"/>
<rect x="382.2" y="423.1" width="6.8" height="19.3" fill="#000"/>
<rect x="469.1" y="423.1" width="6.6" height="19.3" fill="#000"/>
<rect x="478.9" y="423.1" width="6.6" height="19.3" fill="#000"/>
<rect x="540.2" y="423.1" width="6.6" height="19.3" fill="#000"/>
<line x1="220.74" y1="434.78" x2="220.74" y2="443.92" stroke="#781c6d" stroke-width="4.5" clip-path="url(#ca)"/>
<line x1="256.44" y1="419.09" x2="256.44" y2="428.23" stroke="#781c6d" stroke-width="4.5" clip-path="url(#ca)"/>
<line x1="292.13" y1="363.33" x2="292.13" y2="375.51" stroke="#781c6d" stroke-width="4.5" clip-path="url(#ca)"/>
<line x1="327.83" y1="340.01" x2="327.83" y2="352.2" stroke="#781c6d" stroke-width="4.5" clip-path="url(#ca)"/>
<line x1="363.53" y1="309.85" x2="363.53" y2="325.08" stroke="#781c6d" stroke-width="4.5" clip-path="url(#ca)"/>
<line x1="399.22" y1="265.05" x2="399.22" y2="283.03" stroke="#781c6d" stroke-width="4.5" clip-path="url(#ca)"/>
<line x1="434.92" y1="244.94" x2="434.92" y2="263.83" stroke="#781c6d" stroke-width="4.5" clip-path="url(#ca)"/>
<line x1="470.62" y1="227.88" x2="470.62" y2="246.16" stroke="#781c6d" stroke-width="4.5" clip-path="url(#ca)"/>
<line x1="506.31" y1="229.4" x2="506.31" y2="247.68" stroke="#781c6d" stroke-width="4.5" clip-path="url(#ca)"/>
<line x1="577.71" y1="225.59" x2="577.71" y2="259.11" stroke="#781c6d" stroke-width="4.5" clip-path="url(#ca)"/>
<line x1="613.4" y1="207.92" x2="613.4" y2="250.58" stroke="#781c6d" stroke-width="4.5" clip-path="url(#ca)"/>
<line x1="220.74" y1="418.17" x2="220.74" y2="442.55" stroke="#ce4347" stroke-width="4.5" clip-path="url(#ca)"/>
<line x1="256.44" y1="393.49" x2="256.44" y2="408.73" stroke="#ce4347" stroke-width="4.5" clip-path="url(#ca)"/>
<line x1="292.13" y1="361.95" x2="292.13" y2="377.19" stroke="#ce4347" stroke-width="4.5" clip-path="url(#ca)"/>
<line x1="327.83" y1="340.01" x2="327.83" y2="355.25" stroke="#ce4347" stroke-width="4.5" clip-path="url(#ca)"/>
<line x1="363.53" y1="307.26" x2="363.53" y2="325.54" stroke="#ce4347" stroke-width="4.5" clip-path="url(#ca)"/>
<line x1="399.22" y1="267.03" x2="399.22" y2="285.01" stroke="#ce4347" stroke-width="4.5" clip-path="url(#ca)"/>
<line x1="434.92" y1="252.25" x2="434.92" y2="270.54" stroke="#ce4347" stroke-width="4.5" clip-path="url(#ca)"/>
<line x1="470.62" y1="223.61" x2="470.62" y2="244.94" stroke="#ce4347" stroke-width="4.5" clip-path="url(#ca)"/>
<line x1="506.31" y1="220.56" x2="506.31" y2="241.89" stroke="#ce4347" stroke-width="4.5" clip-path="url(#ca)"/>
<line x1="577.71" y1="207" x2="577.71" y2="243.57" stroke="#ce4347" stroke-width="4.5" clip-path="url(#ca)"/>
<line x1="613.4" y1="207.31" x2="613.4" y2="243.87" stroke="#ce4347" stroke-width="4.5" clip-path="url(#ca)"/>
<line x1="220.74" y1="405.99" x2="220.74" y2="424.27" stroke="#e25734" stroke-width="4.5" clip-path="url(#ca)"/>
<line x1="256.44" y1="388.46" x2="256.44" y2="407.66" stroke="#e25734" stroke-width="4.5" clip-path="url(#ca)"/>
<line x1="292.13" y1="362.11" x2="292.13" y2="378.87" stroke="#e25734" stroke-width="4.5" clip-path="url(#ca)"/>
<line x1="327.83" y1="354.03" x2="327.83" y2="370.79" stroke="#e25734" stroke-width="4.5" clip-path="url(#ca)"/>
<line x1="363.53" y1="335.9" x2="363.53" y2="352.66" stroke="#e25734" stroke-width="4.5" clip-path="url(#ca)"/>
<line x1="399.22" y1="301.47" x2="399.22" y2="319.45" stroke="#e25734" stroke-width="4.5" clip-path="url(#ca)"/>
<line x1="434.92" y1="281.81" x2="434.92" y2="300.71" stroke="#e25734" stroke-width="4.5" clip-path="url(#ca)"/>
<line x1="470.62" y1="255.76" x2="470.62" y2="274.04" stroke="#e25734" stroke-width="4.5" clip-path="url(#ca)"/>
<line x1="506.31" y1="239.15" x2="506.31" y2="261.4" stroke="#e25734" stroke-width="4.5" clip-path="url(#ca)"/>
<line x1="577.71" y1="239.46" x2="577.71" y2="269.93" stroke="#e25734" stroke-width="4.5" clip-path="url(#ca)"/>
<line x1="613.4" y1="229.86" x2="613.4" y2="264.9" stroke="#e25734" stroke-width="4.5" clip-path="url(#ca)"/>
<line x1="220.74" y1="416.04" x2="220.74" y2="428.23" stroke="#f78212" stroke-width="4.5" clip-path="url(#ca)"/>
<line x1="256.44" y1="400.65" x2="256.44" y2="412.84" stroke="#f78212" stroke-width="4.5" clip-path="url(#ca)"/>
<line x1="292.13" y1="380.24" x2="292.13" y2="392.43" stroke="#f78212" stroke-width="4.5" clip-path="url(#ca)"/>
<line x1="327.83" y1="368.81" x2="327.83" y2="381" stroke="#f78212" stroke-width="4.5" clip-path="url(#ca)"/>
<line x1="363.53" y1="350.53" x2="363.53" y2="362.72" stroke="#f78212" stroke-width="4.5" clip-path="url(#ca)"/>
<line x1="399.22" y1="320.82" x2="399.22" y2="337.58" stroke="#f78212" stroke-width="4.5" clip-path="url(#ca)"/>
<line x1="434.92" y1="310.91" x2="434.92" y2="327.67" stroke="#f78212" stroke-width="4.5" clip-path="url(#ca)"/>
<line x1="470.62" y1="296.44" x2="470.62" y2="313.2" stroke="#f78212" stroke-width="4.5" clip-path="url(#ca)"/>
<line x1="506.31" y1="293.24" x2="506.31" y2="310.91" stroke="#f78212" stroke-width="4.5" clip-path="url(#ca)"/>
<line x1="577.71" y1="299.18" x2="577.71" y2="327.22" stroke="#f78212" stroke-width="4.5" clip-path="url(#ca)"/>
<line x1="613.4" y1="287.3" x2="613.4" y2="317.16" stroke="#f78212" stroke-width="4.5" clip-path="url(#ca)"/>
<line x1="220.74" y1="423.05" x2="220.74" y2="432.19" stroke="#fca50a" stroke-width="4.5" clip-path="url(#ca)"/>
<line x1="256.44" y1="414.37" x2="256.44" y2="423.51" stroke="#fca50a" stroke-width="4.5" clip-path="url(#ca)"/>
<line x1="292.13" y1="395.17" x2="292.13" y2="407.36" stroke="#fca50a" stroke-width="4.5" clip-path="url(#ca)"/>
<line x1="327.83" y1="387.4" x2="327.83" y2="399.59" stroke="#fca50a" stroke-width="4.5" clip-path="url(#ca)"/>
<line x1="363.53" y1="369.72" x2="363.53" y2="381.91" stroke="#fca50a" stroke-width="4.5" clip-path="url(#ca)"/>
<line x1="399.22" y1="346.41" x2="399.22" y2="358.6" stroke="#fca50a" stroke-width="4.5" clip-path="url(#ca)"/>
<line x1="434.92" y1="337.73" x2="434.92" y2="349.92" stroke="#fca50a" stroke-width="4.5" clip-path="url(#ca)"/>
<line x1="470.62" y1="328.43" x2="470.62" y2="340.62" stroke="#fca50a" stroke-width="4.5" clip-path="url(#ca)"/>
<line x1="506.31" y1="330.57" x2="506.31" y2="345.8" stroke="#fca50a" stroke-width="4.5" clip-path="url(#ca)"/>
<line x1="577.71" y1="343.82" x2="577.71" y2="365.76" stroke="#fca50a" stroke-width="4.5" clip-path="url(#ca)"/>
<line x1="613.4" y1="334.68" x2="613.4" y2="352.96" stroke="#fca50a" stroke-width="4.5" clip-path="url(#ca)"/>
<line x1="220.74" y1="426.25" x2="220.74" y2="435.39" stroke="#fbbe23" stroke-width="4.5" clip-path="url(#ca)"/>
<line x1="256.44" y1="418.02" x2="256.44" y2="427.16" stroke="#fbbe23" stroke-width="4.5" clip-path="url(#ca)"/>
<line x1="292.13" y1="400.96" x2="292.13" y2="413.15" stroke="#fbbe23" stroke-width="4.5" clip-path="url(#ca)"/>
<line x1="327.83" y1="394.71" x2="327.83" y2="406.9" stroke="#fbbe23" stroke-width="4.5" clip-path="url(#ca)"/>
<line x1="363.53" y1="380.24" x2="363.53" y2="392.43" stroke="#fbbe23" stroke-width="4.5" clip-path="url(#ca)"/>
<line x1="399.22" y1="368.05" x2="399.22" y2="380.24" stroke="#fbbe23" stroke-width="4.5" clip-path="url(#ca)"/>
<line x1="434.92" y1="362.41" x2="434.92" y2="374.6" stroke="#fbbe23" stroke-width="4.5" clip-path="url(#ca)"/>
<line x1="470.62" y1="349.46" x2="470.62" y2="364.7" stroke="#fbbe23" stroke-width="4.5" clip-path="url(#ca)"/>
<line x1="506.31" y1="353.88" x2="506.31" y2="369.11" stroke="#fbbe23" stroke-width="4.5" clip-path="url(#ca)"/>
<line x1="577.71" y1="356.62" x2="577.71" y2="374.9" stroke="#fbbe23" stroke-width="4.5" clip-path="url(#ca)"/>
<line x1="613.4" y1="325.08" x2="613.4" y2="372.92" stroke="#fbbe23" stroke-width="4.5" clip-path="url(#ca)"/>
<line x1="220.74" y1="423.35" x2="220.74" y2="432.5" stroke="#f8cf3a" stroke-width="4.5" clip-path="url(#ca)"/>
<line x1="256.44" y1="417.57" x2="256.44" y2="426.71" stroke="#f8cf3a" stroke-width="4.5" clip-path="url(#ca)"/>
<line x1="292.13" y1="405.68" x2="292.13" y2="417.87" stroke="#f8cf3a" stroke-width="4.5" clip-path="url(#ca)"/>
<line x1="327.83" y1="400.81" x2="327.83" y2="412.99" stroke="#f8cf3a" stroke-width="4.5" clip-path="url(#ca)"/>
<line x1="363.53" y1="389.68" x2="363.53" y2="401.87" stroke="#f8cf3a" stroke-width="4.5" clip-path="url(#ca)"/>
<line x1="399.22" y1="376.43" x2="399.22" y2="388.62" stroke="#f8cf3a" stroke-width="4.5" clip-path="url(#ca)"/>
<line x1="434.92" y1="371.1" x2="434.92" y2="383.28" stroke="#f8cf3a" stroke-width="4.5" clip-path="url(#ca)"/>
<line x1="470.62" y1="362.72" x2="470.62" y2="377.95" stroke="#f8cf3a" stroke-width="4.5" clip-path="url(#ca)"/>
<line x1="506.31" y1="367.9" x2="506.31" y2="383.13" stroke="#f8cf3a" stroke-width="4.5" clip-path="url(#ca)"/>
<line x1="577.71" y1="361.04" x2="577.71" y2="391.51" stroke="#f8cf3a" stroke-width="4.5" clip-path="url(#ca)"/>
<line x1="613.4" y1="314.27" x2="613.4" y2="399.59" stroke="#f8cf3a" stroke-width="4.5" clip-path="url(#ca)"/>
<circle cx="220.74" cy="439.35" r="8" fill="#781c6d" clip-path="url(#ca)"/>
<circle cx="256.44" cy="423.66" r="8" fill="#781c6d" clip-path="url(#ca)"/>
<circle cx="292.13" cy="369.42" r="8" fill="#781c6d" clip-path="url(#ca)"/>
<circle cx="327.83" cy="346.11" r="8" fill="#781c6d" clip-path="url(#ca)"/>
<circle cx="363.53" cy="317.46" r="8" fill="#781c6d" clip-path="url(#ca)"/>
<circle cx="399.22" cy="274.04" r="8" fill="#781c6d" clip-path="url(#ca)"/>
<circle cx="434.92" cy="254.39" r="8" fill="#781c6d" clip-path="url(#ca)"/>
<circle cx="470.62" cy="237.02" r="8" fill="#781c6d" clip-path="url(#ca)"/>
<circle cx="506.31" cy="238.54" r="8" fill="#781c6d" clip-path="url(#ca)"/>
<circle cx="577.71" cy="242.35" r="8" fill="#781c6d" clip-path="url(#ca)"/>
<circle cx="613.4" cy="229.25" r="8" fill="#781c6d" clip-path="url(#ca)"/>
<circle cx="220.74" cy="430.36" r="8" fill="#ce4347" clip-path="url(#ca)"/>
<circle cx="256.44" cy="401.11" r="8" fill="#ce4347" clip-path="url(#ca)"/>
<circle cx="292.13" cy="369.57" r="8" fill="#ce4347" clip-path="url(#ca)"/>
<circle cx="327.83" cy="347.63" r="8" fill="#ce4347" clip-path="url(#ca)"/>
<circle cx="363.53" cy="316.4" r="8" fill="#ce4347" clip-path="url(#ca)"/>
<circle cx="399.22" cy="276.02" r="8" fill="#ce4347" clip-path="url(#ca)"/>
<circle cx="434.92" cy="261.4" r="8" fill="#ce4347" clip-path="url(#ca)"/>
<circle cx="470.62" cy="234.28" r="8" fill="#ce4347" clip-path="url(#ca)"/>
<circle cx="506.31" cy="231.23" r="8" fill="#ce4347" clip-path="url(#ca)"/>
<circle cx="577.71" cy="225.29" r="8" fill="#ce4347" clip-path="url(#ca)"/>
<circle cx="613.4" cy="225.59" r="8" fill="#ce4347" clip-path="url(#ca)"/>
<circle cx="220.74" cy="415.13" r="8" fill="#e25734" clip-path="url(#ca)"/>
<circle cx="256.44" cy="398.06" r="8" fill="#e25734" clip-path="url(#ca)"/>
<circle cx="292.13" cy="370.49" r="8" fill="#e25734" clip-path="url(#ca)"/>
<circle cx="327.83" cy="362.41" r="8" fill="#e25734" clip-path="url(#ca)"/>
<circle cx="363.53" cy="344.28" r="8" fill="#e25734" clip-path="url(#ca)"/>
<circle cx="399.22" cy="310.46" r="8" fill="#e25734" clip-path="url(#ca)"/>
<circle cx="434.92" cy="291.26" r="8" fill="#e25734" clip-path="url(#ca)"/>
<circle cx="470.62" cy="264.9" r="8" fill="#e25734" clip-path="url(#ca)"/>
<circle cx="506.31" cy="250.27" r="8" fill="#e25734" clip-path="url(#ca)"/>
<circle cx="577.71" cy="254.69" r="8" fill="#e25734" clip-path="url(#ca)"/>
<circle cx="613.4" cy="247.38" r="8" fill="#e25734" clip-path="url(#ca)"/>
<circle cx="220.74" cy="422.14" r="8" fill="#f78212" clip-path="url(#ca)"/>
<circle cx="256.44" cy="406.75" r="8" fill="#f78212" clip-path="url(#ca)"/>
<circle cx="292.13" cy="386.33" r="8" fill="#f78212" clip-path="url(#ca)"/>
<circle cx="327.83" cy="374.9" r="8" fill="#f78212" clip-path="url(#ca)"/>
<circle cx="363.53" cy="356.62" r="8" fill="#f78212" clip-path="url(#ca)"/>
<circle cx="399.22" cy="329.2" r="8" fill="#f78212" clip-path="url(#ca)"/>
<circle cx="434.92" cy="319.29" r="8" fill="#f78212" clip-path="url(#ca)"/>
<circle cx="470.62" cy="304.82" r="8" fill="#f78212" clip-path="url(#ca)"/>
<circle cx="506.31" cy="302.08" r="8" fill="#f78212" clip-path="url(#ca)"/>
<circle cx="577.71" cy="313.2" r="8" fill="#f78212" clip-path="url(#ca)"/>
<circle cx="613.4" cy="302.23" r="8" fill="#f78212" clip-path="url(#ca)"/>
<circle cx="220.74" cy="427.62" r="8" fill="#fca50a" clip-path="url(#ca)"/>
<circle cx="256.44" cy="418.94" r="8" fill="#fca50a" clip-path="url(#ca)"/>
<circle cx="292.13" cy="401.26" r="8" fill="#fca50a" clip-path="url(#ca)"/>
<circle cx="327.83" cy="393.49" r="8" fill="#fca50a" clip-path="url(#ca)"/>
<circle cx="363.53" cy="375.82" r="8" fill="#fca50a" clip-path="url(#ca)"/>
<circle cx="399.22" cy="352.51" r="8" fill="#fca50a" clip-path="url(#ca)"/>
<circle cx="434.92" cy="343.82" r="8" fill="#fca50a" clip-path="url(#ca)"/>
<circle cx="470.62" cy="334.53" r="8" fill="#fca50a" clip-path="url(#ca)"/>
<circle cx="506.31" cy="338.19" r="8" fill="#fca50a" clip-path="url(#ca)"/>
<circle cx="577.71" cy="354.79" r="8" fill="#fca50a" clip-path="url(#ca)"/>
<circle cx="613.4" cy="343.82" r="8" fill="#fca50a" clip-path="url(#ca)"/>
<circle cx="220.74" cy="430.82" r="8" fill="#fbbe23" clip-path="url(#ca)"/>
<circle cx="256.44" cy="422.59" r="8" fill="#fbbe23" clip-path="url(#ca)"/>
<circle cx="292.13" cy="407.05" r="8" fill="#fbbe23" clip-path="url(#ca)"/>
<circle cx="327.83" cy="400.81" r="8" fill="#fbbe23" clip-path="url(#ca)"/>
<circle cx="363.53" cy="386.33" r="8" fill="#fbbe23" clip-path="url(#ca)"/>
<circle cx="399.22" cy="374.14" r="8" fill="#fbbe23" clip-path="url(#ca)"/>
<circle cx="434.92" cy="368.51" r="8" fill="#fbbe23" clip-path="url(#ca)"/>
<circle cx="470.62" cy="357.08" r="8" fill="#fbbe23" clip-path="url(#ca)"/>
<circle cx="506.31" cy="361.5" r="8" fill="#fbbe23" clip-path="url(#ca)"/>
<circle cx="577.71" cy="365.76" r="8" fill="#fbbe23" clip-path="url(#ca)"/>
<circle cx="613.4" cy="349" r="8" fill="#fbbe23" clip-path="url(#ca)"/>
<circle cx="220.74" cy="427.93" r="8" fill="#f8cf3a" clip-path="url(#ca)"/>
<circle cx="256.44" cy="422.14" r="8" fill="#f8cf3a" clip-path="url(#ca)"/>
<circle cx="292.13" cy="411.78" r="8" fill="#f8cf3a" clip-path="url(#ca)"/>
<circle cx="327.83" cy="406.9" r="8" fill="#f8cf3a" clip-path="url(#ca)"/>
<circle cx="363.53" cy="395.78" r="8" fill="#f8cf3a" clip-path="url(#ca)"/>
<circle cx="399.22" cy="382.52" r="8" fill="#f8cf3a" clip-path="url(#ca)"/>
<circle cx="434.92" cy="377.19" r="8" fill="#f8cf3a" clip-path="url(#ca)"/>
<circle cx="470.62" cy="370.33" r="8" fill="#f8cf3a" clip-path="url(#ca)"/>
<circle cx="506.31" cy="375.51" r="8" fill="#f8cf3a" clip-path="url(#ca)"/>
<circle cx="577.71" cy="376.28" r="8" fill="#f8cf3a" clip-path="url(#ca)"/>
<circle cx="613.4" cy="356.93" r="8" fill="#f8cf3a" clip-path="url(#ca)"/>
<rect x="113.65" y="61.5" width="535.45" height="380.9" fill="none" stroke="#000" stroke-width="2.7"/>
<line x1="102.95" y1="442.4" x2="113.65" y2="442.4" stroke="#000" stroke-width="2.7"/>
<text transform="translate(76.63 454.3) scale(0.9167 1)" xml:space="preserve"><tspan x="0" y="0" font-size="30.5" font-family='"Liberation Sans", sans-serif'>0</tspan></text>
<line x1="102.95" y1="366.22" x2="113.65" y2="366.22" stroke="#000" stroke-width="2.7"/>
<text transform="translate(61.39 378.12) scale(0.9082 1)" xml:space="preserve"><tspan x="0" y="0" font-size="30.5" font-family='"Liberation Sans", sans-serif'>50</tspan></text>
<line x1="102.95" y1="290.04" x2="113.65" y2="290.04" stroke="#000" stroke-width="2.7"/>
<text transform="translate(45.14 301.94) scale(0.9246 1)" xml:space="preserve"><tspan x="0" y="0" font-size="30.5" font-family='"Liberation Sans", sans-serif'>100</tspan></text>
<line x1="102.95" y1="213.86" x2="113.65" y2="213.86" stroke="#000" stroke-width="2.7"/>
<text transform="translate(45.14 225.76) scale(0.9246 1)" xml:space="preserve"><tspan x="0" y="0" font-size="30.5" font-family='"Liberation Sans", sans-serif'>150</tspan></text>
<line x1="102.95" y1="137.68" x2="113.65" y2="137.68" stroke="#000" stroke-width="2.7"/>
<text transform="translate(45.86 149.58) scale(0.9099 1)" xml:space="preserve"><tspan x="0" y="0" font-size="30.5" font-family='"Liberation Sans", sans-serif'>200</tspan></text>
<line x1="102.95" y1="61.5" x2="113.65" y2="61.5" stroke="#000" stroke-width="2.7"/>
<text transform="translate(45.86 73.4) scale(0.9099 1)" xml:space="preserve"><tspan x="0" y="0" font-size="30.5" font-family='"Liberation Sans", sans-serif'>250</tspan></text>
<line x1="113.65" y1="442.4" x2="113.65" y2="453.1" stroke="#000" stroke-width="2.7"/>
<text transform="translate(105.86 485.6) scale(0.9167 1)" xml:space="preserve"><tspan x="0" y="0" font-size="30.5" font-family='"Liberation Sans", sans-serif'>0</tspan></text>
<line x1="232.64" y1="442.4" x2="232.64" y2="453.1" stroke="#000" stroke-width="2.7"/>
<text transform="translate(216.19 485.6) scale(0.9401 1)" xml:space="preserve"><tspan x="0" y="0" font-size="30.5" font-family='"Liberation Sans", sans-serif'>10</tspan></text>
<line x1="351.63" y1="442.4" x2="351.63" y2="453.1" stroke="#000" stroke-width="2.7"/>
<text transform="translate(335.93 485.6) scale(0.9171 1)" xml:space="preserve"><tspan x="0" y="0" font-size="30.5" font-family='"Liberation Sans", sans-serif'>20</tspan></text>
<line x1="470.62" y1="442.4" x2="470.62" y2="453.1" stroke="#000" stroke-width="2.7"/>
<text transform="translate(455.28 485.6) scale(0.9060 1)" xml:space="preserve"><tspan x="0" y="0" font-size="30.5" font-family='"Liberation Sans", sans-serif'>30</tspan></text>
<line x1="589.61" y1="442.4" x2="589.61" y2="453.1" stroke="#000" stroke-width="2.7"/>
<text transform="translate(574.69 485.6) scale(0.8931 1)" xml:space="preserve"><tspan x="0" y="0" font-size="30.5" font-family='"Liberation Sans", sans-serif'>40</tspan></text>
<rect x="115" y="62.85" width="212.6" height="169.55" fill="#fff"/>
<path d="M136.7 232.4 L156.44 215.2 L170.7 207.2 L184.97 203.3 L199.23 197.4 L213.49 191.6 L227.76 176.1 L242.02 162 L256.28 150.7 L270.55 149.2 L284.81 149.2 L299.07 147.5 L313.34 153.3 L327.6 154.8" fill="none" stroke="#ce4347" stroke-width="3.4" stroke-linejoin="round" stroke-linecap="butt" clip-path="url(#ci)"/>
<circle cx="127.91" cy="229" r="7.8" fill="#4f0d6c" clip-path="url(#ci)"/>
<circle cx="156.44" cy="218.6" r="7.8" fill="#4f0d6c" clip-path="url(#ci)"/>
<circle cx="170.7" cy="214.2" r="7.8" fill="#4f0d6c" clip-path="url(#ci)"/>
<circle cx="184.97" cy="209.9" r="7.8" fill="#4f0d6c" clip-path="url(#ci)"/>
<circle cx="199.23" cy="203.3" r="7.8" fill="#4f0d6c" clip-path="url(#ci)"/>
<circle cx="213.49" cy="188.2" r="7.8" fill="#4f0d6c" clip-path="url(#ci)"/>
<circle cx="227.76" cy="172.6" r="7.8" fill="#4f0d6c" clip-path="url(#ci)"/>
<circle cx="242.02" cy="156.8" r="7.8" fill="#4f0d6c" clip-path="url(#ci)"/>
<circle cx="256.28" cy="138.5" r="7.8" fill="#4f0d6c" clip-path="url(#ci)"/>
<circle cx="270.55" cy="136.3" r="7.8" fill="#4f0d6c" clip-path="url(#ci)"/>
<circle cx="284.81" cy="138.5" r="7.8" fill="#4f0d6c" clip-path="url(#ci)"/>
<circle cx="299.07" cy="143.6" r="7.8" fill="#4f0d6c" clip-path="url(#ci)"/>
<circle cx="313.34" cy="147.2" r="7.8" fill="#4f0d6c" clip-path="url(#ci)"/>
<circle cx="327.6" cy="150" r="7.8" fill="#4f0d6c" clip-path="url(#ci)"/>
<circle cx="127.91" cy="230.6" r="7.8" fill="#e15635" clip-path="url(#ci)"/>
<circle cx="156.44" cy="214.2" r="7.8" fill="#e15635" clip-path="url(#ci)"/>
<circle cx="170.7" cy="206.2" r="7.8" fill="#e15635" clip-path="url(#ci)"/>
<circle cx="184.97" cy="202.3" r="7.8" fill="#e15635" clip-path="url(#ci)"/>
<circle cx="199.23" cy="196.4" r="7.8" fill="#e15635" clip-path="url(#ci)"/>
<circle cx="213.49" cy="190.6" r="7.8" fill="#e15635" clip-path="url(#ci)"/>
<circle cx="227.76" cy="175.1" r="7.8" fill="#e15635" clip-path="url(#ci)"/>
<circle cx="242.02" cy="161" r="7.8" fill="#e15635" clip-path="url(#ci)"/>
<circle cx="256.28" cy="149.7" r="7.8" fill="#e15635" clip-path="url(#ci)"/>
<circle cx="270.55" cy="148.2" r="7.8" fill="#e15635" clip-path="url(#ci)"/>
<circle cx="284.81" cy="148.2" r="7.8" fill="#e15635" clip-path="url(#ci)"/>
<circle cx="299.07" cy="146.5" r="7.8" fill="#e15635" clip-path="url(#ci)"/>
<circle cx="313.34" cy="152.3" r="7.8" fill="#e15635" clip-path="url(#ci)"/>
<circle cx="327.6" cy="153.8" r="7.8" fill="#e15635" clip-path="url(#ci)"/>
<line x1="327.6" y1="61.5" x2="327.6" y2="233.75" stroke="#000" stroke-width="2.7"/>
<line x1="113.65" y1="232.4" x2="328.95" y2="232.4" stroke="#000" stroke-width="2.7"/>
<line x1="327.6" y1="232.4" x2="338.3" y2="232.4" stroke="#000" stroke-width="2.7"/>
<text transform="translate(349.78 244.7) scale(0.9167 1)" xml:space="preserve"><tspan x="0" y="0" font-size="30.5" font-family='"Liberation Sans", sans-serif'>0</tspan></text>
<line x1="327.6" y1="189.68" x2="338.3" y2="189.68" stroke="#000" stroke-width="2.7"/>
<text transform="translate(349.79 201.98) scale(0.9082 1)" xml:space="preserve"><tspan x="0" y="0" font-size="30.5" font-family='"Liberation Sans", sans-serif'>50</tspan></text>
<line x1="327.6" y1="146.95" x2="338.3" y2="146.95" stroke="#000" stroke-width="2.7"/>
<text transform="translate(348.79 159.25) scale(0.9246 1)" xml:space="preserve"><tspan x="0" y="0" font-size="30.5" font-family='"Liberation Sans", sans-serif'>100</tspan></text>
<line x1="327.6" y1="104.22" x2="338.3" y2="104.22" stroke="#000" stroke-width="2.7"/>
<text transform="translate(348.79 116.52) scale(0.9246 1)" xml:space="preserve"><tspan x="0" y="0" font-size="30.5" font-family='"Liberation Sans", sans-serif'>150</tspan></text>
<line x1="161.19" y1="232.4" x2="161.19" y2="243.1" stroke="#000" stroke-width="2.7"/>
<text transform="translate(144.74 276.6) scale(0.9401 1)" xml:space="preserve"><tspan x="0" y="0" font-size="30.5" font-family='"Liberation Sans", sans-serif'>10</tspan></text>
<line x1="208.74" y1="232.4" x2="208.74" y2="243.1" stroke="#000" stroke-width="2.7"/>
<text transform="translate(193.04 276.6) scale(0.9171 1)" xml:space="preserve"><tspan x="0" y="0" font-size="30.5" font-family='"Liberation Sans", sans-serif'>20</tspan></text>
<line x1="256.28" y1="232.4" x2="256.28" y2="243.1" stroke="#000" stroke-width="2.7"/>
<text transform="translate(240.95 276.6) scale(0.9060 1)" xml:space="preserve"><tspan x="0" y="0" font-size="30.5" font-family='"Liberation Sans", sans-serif'>30</tspan></text>
<line x1="303.83" y1="232.4" x2="303.83" y2="243.1" stroke="#000" stroke-width="2.7"/>
<text transform="translate(288.91 276.6) scale(0.8931 1)" xml:space="preserve"><tspan x="0" y="0" font-size="30.5" font-family='"Liberation Sans", sans-serif'>40</tspan></text>
<rect x="126.6" y="30.7" width="123.85" height="88.45" fill="#fff" stroke="#000" stroke-width="3.7"/>
<circle cx="152.7" cy="50.7" r="7.7" fill="#4f0d6c"/>
<circle cx="152.7" cy="93.4" r="7.7" fill="#e15635"/>
<text transform="translate(219.21 61.3) scale(1.0309 1)" xml:space="preserve"><tspan x="0" y="0" font-size="30.5" font-family='"Liberation Sans", sans-serif'>K</tspan></text>
<text transform="translate(194.73 61.3) scale(0.9215 1)" xml:space="preserve"><tspan x="0" y="0" font-size="30.5" font-family='"Liberation Sans", sans-serif'>5</tspan></text>
<text transform="translate(219.21 104.1) scale(1.0309 1)" xml:space="preserve"><tspan x="0" y="0" font-size="30.5" font-family='"Liberation Sans", sans-serif'>K</tspan></text>
<text transform="translate(179.13 104.1) scale(0.9193 1)" xml:space="preserve"><tspan x="0" y="0" font-size="30.5" font-family='"Liberation Sans", sans-serif'>70</tspan></text>
<rect x="408.15" y="20.1" width="275.1" height="174.85" fill="#fff" stroke="#000" stroke-width="3.7"/>
<circle cx="434.3" cy="40.2" r="7.8" fill="#781c6d"/>
<text transform="translate(515.91 50.8) scale(1.0309 1)" xml:space="preserve"><tspan x="0" y="0" font-size="30.5" font-family='"Liberation Sans", sans-serif'>K</tspan></text>
<text transform="translate(475.15 50.8) scale(0.9401 1)" xml:space="preserve"><tspan x="0" y="0" font-size="30.5" font-family='"Liberation Sans", sans-serif'>10</tspan></text>
<circle cx="434.3" cy="83.1" r="7.8" fill="#ce4347"/>
<text transform="translate(515.91 93.7) scale(1.0309 1)" xml:space="preserve"><tspan x="0" y="0" font-size="30.5" font-family='"Liberation Sans", sans-serif'>K</tspan></text>
<text transform="translate(476.68 93.7) scale(0.8973 1)" xml:space="preserve"><tspan x="0" y="0" font-size="30.5" font-family='"Liberation Sans", sans-serif'>46</tspan></text>
<circle cx="434.3" cy="126" r="7.8" fill="#e25734"/>
<text transform="translate(515.91 136.6) scale(1.0309 1)" xml:space="preserve"><tspan x="0" y="0" font-size="30.5" font-family='"Liberation Sans", sans-serif'>K</tspan></text>
<text transform="translate(475.81 136.6) scale(0.9307 1)" xml:space="preserve"><tspan x="0" y="0" font-size="30.5" font-family='"Liberation Sans", sans-serif'>72</tspan></text>
<circle cx="434.3" cy="168.9" r="7.8" fill="#f78212"/>
<text transform="translate(515.91 179.5) scale(1.0309 1)" xml:space="preserve"><tspan x="0" y="0" font-size="30.5" font-family='"Liberation Sans", sans-serif'>K</tspan></text>
<text transform="translate(459.94 179.5) scale(0.9246 1)" xml:space="preserve"><tspan x="0" y="0" font-size="30.5" font-family='"Liberation Sans", sans-serif'>150</tspan></text>
<circle cx="570.2" cy="40.2" r="7.8" fill="#fca50a"/>
<text transform="translate(651.71 50.8) scale(1.0309 1)" xml:space="preserve"><tspan x="0" y="0" font-size="30.5" font-family='"Liberation Sans", sans-serif'>K</tspan></text>
<text transform="translate(596.46 50.8) scale(0.9099 1)" xml:space="preserve"><tspan x="0" y="0" font-size="30.5" font-family='"Liberation Sans", sans-serif'>250</tspan></text>
<circle cx="570.2" cy="83.1" r="7.8" fill="#fbbe23"/>
<text transform="translate(651.71 93.7) scale(1.0309 1)" xml:space="preserve"><tspan x="0" y="0" font-size="30.5" font-family='"Liberation Sans", sans-serif'>K</tspan></text>
<text transform="translate(596.82 93.7) scale(0.9028 1)" xml:space="preserve"><tspan x="0" y="0" font-size="30.5" font-family='"Liberation Sans", sans-serif'>350</tspan></text>
<circle cx="570.2" cy="126" r="7.8" fill="#f8cf3a"/>
<text transform="translate(651.71 136.6) scale(1.0309 1)" xml:space="preserve"><tspan x="0" y="0" font-size="30.5" font-family='"Liberation Sans", sans-serif'>K</tspan></text>
<text transform="translate(597.24 136.6) scale(0.8944 1)" xml:space="preserve"><tspan x="0" y="0" font-size="30.5" font-family='"Liberation Sans", sans-serif'>450</tspan></text>
<text transform="translate(44.98 24.25) scale(0.9525 1)" xml:space="preserve"><tspan x="0" y="0" font-size="33.99" font-family='"Liberation Sans", sans-serif'>(</tspan></text>
<text transform="translate(56.58 23.36) scale(0.9806 1)" xml:space="preserve"><tspan x="0" y="0" font-size="24.47" font-family='"Liberation Sans", sans-serif'>a</tspan></text>
<text transform="translate(72.57 24.25) scale(0.9077 1)" xml:space="preserve"><tspan x="0" y="0" font-size="33.99" font-family='"Liberation Sans", sans-serif'>)</tspan></text>
<text transform="translate(323.83 526.51) scale(1.0159 1)" xml:space="preserve"><tspan x="0" y="0" font-size="29.37" font-family='"Liberation Serif", serif' font-style="italic">&#969;</tspan></text>
<text transform="translate(355.82 527.34) scale(0.8966 1)" xml:space="preserve"><tspan x="0" y="0" font-size="33.57" font-family='"Liberation Sans", sans-serif'>(</tspan></text>
<text transform="translate(367.67 526.34) scale(1.0592 1)" xml:space="preserve"><tspan x="0" y="0" font-size="25.57" font-family='"Liberation Sans", sans-serif'>me</tspan></text>
<text transform="translate(405.25 526.3) scale(0.9762 1)" xml:space="preserve"><tspan x="0" y="0" font-size="30.69" font-family='"Liberation Sans", sans-serif'>V</tspan></text>
<text transform="translate(426.97 527.34) scale(0.8966 1)" xml:space="preserve"><tspan x="0" y="0" font-size="33.57" font-family='"Liberation Sans", sans-serif'>)</tspan></text>
<g transform="rotate(-90)"><text transform="translate(-367.49 33.39) scale(0.9163 1)" xml:space="preserve"><tspan x="0" y="0" font-size="21.48" font-family='"Liberation Sans", sans-serif'>0</tspan></text><text transform="translate(-342.44 26.55) scale(1.0534 1)" xml:space="preserve"><tspan x="0" y="0" font-size="33.99" font-family='"Liberation Sans", sans-serif'>(</tspan></text><text transform="translate(-328.9 25.86) scale(1.1681 1)" xml:space="preserve"><tspan x="0" y="0" font-size="29.48" font-family='"Liberation Serif", serif' font-style="italic">&#956;</tspan></text><text transform="translate(-312.04 14.2) scale(1.1637 1)" xml:space="preserve"><tspan x="0" y="0" font-size="19.64" font-family='"Liberation Sans", sans-serif'>2</tspan></text><text transform="translate(-310.28 34.44) scale(1.1061 1)" xml:space="preserve"><tspan x="0" y="0" font-size="25.1" font-family='"Liberation Serif", serif' font-style="italic">B</tspan></text><text transform="translate(-280.81 25.93) scale(0.9747 1)" xml:space="preserve"><tspan x="0" y="0" font-size="26.85" font-family='"Liberation Sans", sans-serif'>e</tspan></text><text transform="translate(-267.05 26) scale(0.9782 1)" xml:space="preserve"><tspan x="0" y="0" font-size="31.56" font-family='"Liberation Sans", sans-serif'>V</tspan></text><text transform="translate(-245.59 14.7) scale(1.2539 1)" xml:space="preserve"><tspan x="0" y="0" font-size="20.65" font-family='"Liberation Sans", sans-serif'>&#8722;1</tspan></text><text transform="translate(-203.34 25.6) scale(1.2006 1)" xml:space="preserve"><tspan x="0" y="0" font-size="30.17" font-family='"Liberation Sans", sans-serif'>f</tspan></text><text transform="translate(-193.93 25.7) scale(1.0912 1)" xml:space="preserve"><tspan x="0" y="0" font-size="26.05" font-family='"Liberation Sans", sans-serif'>.</tspan></text><text transform="translate(-185.37 25.64) scale(1.0331 1)" xml:space="preserve"><tspan x="0" y="0" font-size="26.42" font-family='"Liberation Sans", sans-serif'>u</tspan></text><text transform="translate(-170.12 25.7) scale(1.1720 1)" xml:space="preserve"><tspan x="0" y="0" font-size="26.05" font-family='"Liberation Sans", sans-serif'>.</tspan></text><text transform="translate(-160.49 14.7) scale(1.2539 1)" xml:space="preserve"><tspan x="0" y="0" font-size="20.65" font-family='"Liberation Sans", sans-serif'>&#8722;1</tspan></text><text transform="translate(-127.23 26.55) scale(0.8965 1)" xml:space="preserve"><tspan x="0" y="0" font-size="33.99" font-family='"Liberation Sans", sans-serif'>)</tspan></text><g transform="rotate(90) translate(0 0)" fill="none" stroke="#000" stroke-linecap="round"><path d="M12.4 369.9 L31.3 386.1" stroke-width="1.5"/><path d="M12.8 385.5 C11.4 381.4 15.6 378.9 21.7 377.3 C27.5 375.6 33.2 373.6 30.4 369.8" stroke-width="2.5"/></g><path d="M3.6 356.1 L13.2 359.7" stroke="#000" stroke-width="2.3" stroke-linecap="round" transform="rotate(90)"/><path d="M3.6 363.2 L13.2 366.8" stroke="#000" stroke-width="2.3" stroke-linecap="round" transform="rotate(90)"/></g>
<path d="M176.36 980.1 L178.36 979.03 L180.36 977.96 L182.37 976.88 L184.37 975.81 L186.37 974.73 L188.37 973.65 L190.38 972.58 L192.38 971.5 L194.38 970.41 L196.39 969.33 L198.39 968.24 L200.39 967.16 L202.39 966.07 L204.4 964.98 L206.4 963.88 L208.4 962.78 L210.41 961.68 L212.41 960.58 L214.41 959.48 L216.42 958.37 L218.42 957.26 L220.42 956.14 L222.42 955.03 L224.43 953.9 L226.43 952.78 L228.43 951.65 L230.44 950.52 L232.44 949.38 L234.44 948.24 L236.44 947.1 L238.45 945.95 L240.45 944.8 L242.45 943.64 L244.46 942.48 L246.46 941.31 L248.46 940.14 L250.46 938.96 L252.47 937.78 L254.47 936.59 L256.47 935.4 L258.48 934.2 L260.48 932.99 L262.48 931.78 L264.48 930.57 L266.49 929.35 L268.49 928.12 L270.49 926.88 L272.5 925.64 L274.5 924.4 L276.5 923.14 L278.5 921.88 L280.51 920.62 L282.51 919.34 L284.51 918.06 L286.52 916.77 L288.52 915.48 L290.52 914.17 L292.53 912.86 L294.53 911.55 L296.53 910.22 L298.53 908.89 L300.54 907.55 L302.54 906.2 L304.54 904.85 L306.55 903.49 L308.55 902.12 L310.55 900.75 L312.55 899.38 L314.56 897.99 L316.56 896.61 L318.56 895.21 L320.57 893.81 L322.57 892.41 L324.57 891 L326.57 889.59 L328.58 888.18 L330.58 886.76 L332.58 885.33 L334.59 883.91 L336.59 882.48 L338.59 881.04 L340.59 879.61 L342.6 878.17 L344.6 876.73 L346.6 875.29 L348.61 873.84 L350.61 872.39 L352.61 870.95 L354.61 869.5 L356.62 868.04 L358.62 866.59 L360.62 865.14 L362.63 863.68 L364.63 862.23 L366.63 860.78 L368.64 859.32 L370.64 857.87 L372.64 856.41 L374.64 854.96 L376.65 853.51 L378.65 852.06 L380.65 850.61 L382.66 849.16 L384.66 847.71 L386.66 846.27 L388.66 844.83 L390.67 843.39 L392.67 841.95 L394.67 840.51 L396.68 839.08 L398.68 837.65 L400.68 836.23 L402.68 834.8 L404.69 833.38 L406.69 831.97 L408.69 830.56 L410.7 829.15 L412.7 827.75 L414.7 826.36 L416.7 824.96 L418.71 823.58 L420.71 822.2 L422.71 820.83 L424.72 819.47 L426.72 818.11 L428.72 816.77 L430.73 815.43 L432.73 814.11 L434.73 812.79 L436.73 811.49 L438.74 810.2 L440.74 808.92 L442.74 807.65 L444.75 806.4 L446.75 805.16 L448.75 803.94 L450.75 802.73 L452.76 801.53 L454.76 800.36 L456.76 799.2 L458.77 798.06 L460.77 796.93 L462.77 795.83 L464.77 794.74 L466.78 793.67 L468.78 792.63 L470.78 791.6 L472.79 790.6 L474.79 789.62 L476.79 788.66 L478.79 787.72 L480.8 786.81 L482.8 785.92 L484.8 785.06 L486.81 784.22 L488.81 783.41 L490.81 782.63 L492.81 781.87 L494.82 781.14 L496.82 780.44 L498.82 779.76 L500.83 779.12 L502.83 778.51 L504.83 777.92 L506.84 777.37 L508.84 776.85 L510.84 776.36 L512.84 775.91 L514.85 775.49 L516.85 775.1 L518.85 774.75 L520.86 774.43 L522.86 774.14 L524.86 773.9 L526.86 773.69 L528.87 773.52 L530.87 773.38 L532.87 773.29 L534.88 773.23 L536.88 773.2 L538.88 773.22 L540.88 773.26 L542.89 773.34 L544.89 773.46 L546.89 773.6 L548.9 773.78 L550.9 773.99 L552.9 774.23 L554.9 774.49 L556.91 774.79 L558.91 775.11 L560.91 775.45 L562.92 775.83 L564.92 776.22 L566.92 776.64 L568.92 777.09 L570.93 777.55 L572.93 778.04 L574.93 778.55 L576.94 779.08 L578.94 779.62 L580.94 780.19 L582.95 780.77 L584.95 781.36 L586.95 781.98 L588.95 782.6 L590.96 783.25 L592.96 783.9 L594.96 784.57 L596.97 785.24 L598.97 785.93 L600.97 786.63 L602.97 787.33 L604.98 788.05 L606.98 788.77 L608.98 789.49 L610.99 790.23 L612.99 790.96 L614.99 791.7 L616.99 792.45 L619 793.19 L621 793.94 L623 794.69 L625.01 795.43 L627.01 796.18 L629.01 796.92 L631.01 797.66 L633.02 798.4 L635.02 799.13 L637.02 799.86 L639.03 800.58 L641.03 801.29 L643.03 802 L645.03 802.69 L647.04 803.38 L649.04 804.06 L651.04 804.72 L653.05 805.37 L655.05 806.01" fill="none" stroke="#4f0d6c" stroke-width="4.5" stroke-linejoin="round" stroke-linecap="butt" clip-path="url(#cb)"/>
<path d="M176.36 980.1 L178.36 979.14 L180.36 978.18 L182.37 977.21 L184.37 976.25 L186.37 975.29 L188.37 974.32 L190.38 973.35 L192.38 972.38 L194.38 971.41 L196.39 970.44 L198.39 969.47 L200.39 968.49 L202.39 967.52 L204.4 966.54 L206.4 965.56 L208.4 964.57 L210.41 963.59 L212.41 962.6 L214.41 961.61 L216.42 960.61 L218.42 959.62 L220.42 958.62 L222.42 957.61 L224.43 956.61 L226.43 955.6 L228.43 954.59 L230.44 953.57 L232.44 952.55 L234.44 951.53 L236.44 950.51 L238.45 949.48 L240.45 948.44 L242.45 947.4 L244.46 946.36 L246.46 945.31 L248.46 944.26 L250.46 943.21 L252.47 942.15 L254.47 941.08 L256.47 940.01 L258.48 938.94 L260.48 937.86 L262.48 936.77 L264.48 935.68 L266.49 934.59 L268.49 933.48 L270.49 932.38 L272.5 931.27 L274.5 930.15 L276.5 929.02 L278.5 927.89 L280.51 926.76 L282.51 925.62 L284.51 924.47 L286.52 923.31 L288.52 922.15 L290.52 920.98 L292.53 919.81 L294.53 918.62 L296.53 917.44 L298.53 916.24 L300.54 915.04 L302.54 913.83 L304.54 912.62 L306.55 911.4 L308.55 910.18 L310.55 908.95 L312.55 907.71 L314.56 906.47 L316.56 905.23 L318.56 903.98 L320.57 902.72 L322.57 901.47 L324.57 900.2 L326.57 898.94 L328.58 897.67 L330.58 896.4 L332.58 895.12 L334.59 893.84 L336.59 892.56 L338.59 891.27 L340.59 889.99 L342.6 888.7 L344.6 887.4 L346.6 886.11 L348.61 884.81 L350.61 883.52 L352.61 882.22 L354.61 880.92 L356.62 879.61 L358.62 878.31 L360.62 877.01 L362.63 875.71 L364.63 874.4 L366.63 873.1 L368.64 871.79 L370.64 870.49 L372.64 869.19 L374.64 867.88 L376.65 866.58 L378.65 865.28 L380.65 863.98 L382.66 862.68 L384.66 861.38 L386.66 860.09 L388.66 858.79 L390.67 857.5 L392.67 856.21 L394.67 854.93 L396.68 853.64 L398.68 852.36 L400.68 851.08 L402.68 849.81 L404.69 848.53 L406.69 847.26 L408.69 846 L410.7 844.74 L412.7 843.48 L414.7 842.23 L416.7 840.98 L418.71 839.74 L420.71 838.51 L422.71 837.28 L424.72 836.05 L426.72 834.84 L428.72 833.63 L430.73 832.44 L432.73 831.25 L434.73 830.07 L436.73 828.9 L438.74 827.74 L440.74 826.59 L442.74 825.46 L444.75 824.33 L446.75 823.22 L448.75 822.13 L450.75 821.04 L452.76 819.97 L454.76 818.92 L456.76 817.88 L458.77 816.85 L460.77 815.84 L462.77 814.85 L464.77 813.88 L466.78 812.92 L468.78 811.98 L470.78 811.07 L472.79 810.17 L474.79 809.28 L476.79 808.42 L478.79 807.59 L480.8 806.77 L482.8 805.97 L484.8 805.2 L486.81 804.45 L488.81 803.72 L490.81 803.02 L492.81 802.34 L494.82 801.68 L496.82 801.05 L498.82 800.45 L500.83 799.87 L502.83 799.32 L504.83 798.8 L506.84 798.3 L508.84 797.84 L510.84 797.4 L512.84 796.99 L514.85 796.61 L516.85 796.27 L518.85 795.95 L520.86 795.66 L522.86 795.41 L524.86 795.19 L526.86 795 L528.87 794.85 L530.87 794.73 L532.87 794.64 L534.88 794.59 L536.88 794.57 L538.88 794.58 L540.88 794.62 L542.89 794.69 L544.89 794.79 L546.89 794.93 L548.9 795.08 L550.9 795.27 L552.9 795.48 L554.9 795.72 L556.91 795.98 L558.91 796.27 L560.91 796.58 L562.92 796.92 L564.92 797.27 L566.92 797.65 L568.92 798.05 L570.93 798.47 L572.93 798.9 L574.93 799.36 L576.94 799.83 L578.94 800.32 L580.94 800.83 L582.95 801.35 L584.95 801.88 L586.95 802.43 L588.95 803 L590.96 803.57 L592.96 804.16 L594.96 804.75 L596.97 805.36 L598.97 805.98 L600.97 806.6 L602.97 807.24 L604.98 807.88 L606.98 808.52 L608.98 809.18 L610.99 809.83 L612.99 810.49 L614.99 811.16 L616.99 811.82 L619 812.49 L621 813.16 L623 813.83 L625.01 814.5 L627.01 815.17 L629.01 815.84 L631.01 816.5 L633.02 817.16 L635.02 817.82 L637.02 818.47 L639.03 819.11 L641.03 819.75 L643.03 820.39 L645.03 821.01 L647.04 821.63 L649.04 822.23 L651.04 822.83 L653.05 823.41 L655.05 823.99" fill="none" stroke="#e15635" stroke-width="4.5" stroke-linejoin="round" stroke-linecap="butt" clip-path="url(#cb)"/>
<line x1="220.74" y1="974" x2="220.74" y2="1000" stroke="#4f0d6c" stroke-width="4.5" clip-path="url(#cb)"/>
<rect x="212.89" y="979.15" width="15.7" height="15.7" fill="#4f0d6c" clip-path="url(#cb)"/>
<line x1="256.44" y1="942.6" x2="256.44" y2="962.4" stroke="#4f0d6c" stroke-width="4.5" clip-path="url(#cb)"/>
<rect x="248.59" y="944.65" width="15.7" height="15.7" fill="#4f0d6c" clip-path="url(#cb)"/>
<line x1="292.13" y1="844.2" x2="292.13" y2="865.2" stroke="#4f0d6c" stroke-width="4.5" clip-path="url(#cb)"/>
<rect x="284.28" y="846.85" width="15.7" height="15.7" fill="#4f0d6c" clip-path="url(#cb)"/>
<line x1="363.53" y1="839.6" x2="363.53" y2="860.6" stroke="#4f0d6c" stroke-width="4.5" clip-path="url(#cb)"/>
<rect x="355.68" y="842.25" width="15.7" height="15.7" fill="#4f0d6c" clip-path="url(#cb)"/>
<line x1="470.62" y1="798.7" x2="470.62" y2="816.7" stroke="#4f0d6c" stroke-width="4.5" clip-path="url(#cb)"/>
<rect x="462.77" y="799.85" width="15.7" height="15.7" fill="#4f0d6c" clip-path="url(#cb)"/>
<line x1="220.74" y1="945.7" x2="220.74" y2="963.5" stroke="#e15635" stroke-width="4.5" clip-path="url(#cb)"/>
<rect x="212.89" y="946.75" width="15.7" height="15.7" fill="#e15635" clip-path="url(#cb)"/>
<line x1="470.62" y1="838.4" x2="470.62" y2="855.6" stroke="#e15635" stroke-width="4.5" clip-path="url(#cb)"/>
<rect x="462.77" y="839.15" width="15.7" height="15.7" fill="#e15635" clip-path="url(#cb)"/>
<line x1="113" y1="980.25" x2="669.1" y2="980.25" stroke="#000" stroke-width="4.6" clip-path="url(#cb)" stroke-dasharray="17.3 7.24"/>
<line x1="220.74" y1="973.8" x2="220.74" y2="1016.6" stroke="#4f0d6c" stroke-width="4.5" clip-path="url(#cb)"/>
<line x1="256.44" y1="968.3" x2="256.44" y2="1003.3" stroke="#4f0d6c" stroke-width="4.5" clip-path="url(#cb)"/>
<line x1="290.93" y1="898" x2="290.93" y2="937.6" stroke="#4f0d6c" stroke-width="4.5" clip-path="url(#cb)"/>
<line x1="326.63" y1="823.3" x2="326.63" y2="900.3" stroke="#4f0d6c" stroke-width="4.5" clip-path="url(#cb)"/>
<line x1="362.33" y1="845.6" x2="362.33" y2="888.6" stroke="#4f0d6c" stroke-width="4.5" clip-path="url(#cb)"/>
<line x1="398.02" y1="777.2" x2="398.02" y2="856.2" stroke="#4f0d6c" stroke-width="4.5" clip-path="url(#cb)"/>
<line x1="433.72" y1="805.2" x2="433.72" y2="881.2" stroke="#4f0d6c" stroke-width="4.5" clip-path="url(#cb)"/>
<line x1="469.42" y1="791.3" x2="469.42" y2="838.1" stroke="#4f0d6c" stroke-width="4.5" clip-path="url(#cb)"/>
<line x1="540.81" y1="728.3" x2="540.81" y2="808.7" stroke="#4f0d6c" stroke-width="4.5" clip-path="url(#cb)"/>
<line x1="576.51" y1="797.8" x2="576.51" y2="876.2" stroke="#4f0d6c" stroke-width="4.5" clip-path="url(#cb)"/>
<circle cx="220.74" cy="995.2" r="6.3" fill="#fff" stroke="#4f0d6c" stroke-width="3.3" clip-path="url(#cb)"/>
<circle cx="256.44" cy="985.8" r="6.3" fill="#fff" stroke="#4f0d6c" stroke-width="3.3" clip-path="url(#cb)"/>
<circle cx="290.93" cy="917.8" r="6.3" fill="#fff" stroke="#4f0d6c" stroke-width="3.3" clip-path="url(#cb)"/>
<circle cx="326.63" cy="861.8" r="6.3" fill="#fff" stroke="#4f0d6c" stroke-width="3.3" clip-path="url(#cb)"/>
<circle cx="362.33" cy="867.1" r="6.3" fill="#fff" stroke="#4f0d6c" stroke-width="3.3" clip-path="url(#cb)"/>
<circle cx="398.02" cy="816.7" r="6.3" fill="#fff" stroke="#4f0d6c" stroke-width="3.3" clip-path="url(#cb)"/>
<circle cx="433.72" cy="843.2" r="6.3" fill="#fff" stroke="#4f0d6c" stroke-width="3.3" clip-path="url(#cb)"/>
<circle cx="469.42" cy="814.7" r="6.3" fill="#fff" stroke="#4f0d6c" stroke-width="3.3" clip-path="url(#cb)"/>
<circle cx="540.81" cy="768.5" r="6.3" fill="#fff" stroke="#4f0d6c" stroke-width="3.3" clip-path="url(#cb)"/>
<circle cx="576.51" cy="837" r="6.3" fill="#fff" stroke="#4f0d6c" stroke-width="3.3" clip-path="url(#cb)"/>
<rect x="113.65" y="614.3" width="535.45" height="380.4" fill="none" stroke="#000" stroke-width="2.7"/>
<line x1="102.95" y1="980.1" x2="113.65" y2="980.1" stroke="#000" stroke-width="2.7"/>
<text transform="translate(76.63 992) scale(0.9167 1)" xml:space="preserve"><tspan x="0" y="0" font-size="30.5" font-family='"Liberation Sans", sans-serif'>0</tspan></text>
<line x1="102.95" y1="906.94" x2="113.65" y2="906.94" stroke="#000" stroke-width="2.7"/>
<text transform="translate(61.39 918.84) scale(0.9082 1)" xml:space="preserve"><tspan x="0" y="0" font-size="30.5" font-family='"Liberation Sans", sans-serif'>50</tspan></text>
<line x1="102.95" y1="833.78" x2="113.65" y2="833.78" stroke="#000" stroke-width="2.7"/>
<text transform="translate(45.14 845.68) scale(0.9246 1)" xml:space="preserve"><tspan x="0" y="0" font-size="30.5" font-family='"Liberation Sans", sans-serif'>100</tspan></text>
<line x1="102.95" y1="760.62" x2="113.65" y2="760.62" stroke="#000" stroke-width="2.7"/>
<text transform="translate(45.14 772.52) scale(0.9246 1)" xml:space="preserve"><tspan x="0" y="0" font-size="30.5" font-family='"Liberation Sans", sans-serif'>150</tspan></text>
<line x1="102.95" y1="687.46" x2="113.65" y2="687.46" stroke="#000" stroke-width="2.7"/>
<text transform="translate(45.86 699.36) scale(0.9099 1)" xml:space="preserve"><tspan x="0" y="0" font-size="30.5" font-family='"Liberation Sans", sans-serif'>200</tspan></text>
<line x1="102.95" y1="614.3" x2="113.65" y2="614.3" stroke="#000" stroke-width="2.7"/>
<text transform="translate(45.86 626.2) scale(0.9099 1)" xml:space="preserve"><tspan x="0" y="0" font-size="30.5" font-family='"Liberation Sans", sans-serif'>250</tspan></text>
<line x1="113.65" y1="994.7" x2="113.65" y2="1005.4" stroke="#000" stroke-width="2.7"/>
<text transform="translate(105.86 1037.9) scale(0.9167 1)" xml:space="preserve"><tspan x="0" y="0" font-size="30.5" font-family='"Liberation Sans", sans-serif'>0</tspan></text>
<line x1="232.64" y1="994.7" x2="232.64" y2="1005.4" stroke="#000" stroke-width="2.7"/>
<text transform="translate(216.19 1037.9) scale(0.9401 1)" xml:space="preserve"><tspan x="0" y="0" font-size="30.5" font-family='"Liberation Sans", sans-serif'>10</tspan></text>
<line x1="351.63" y1="994.7" x2="351.63" y2="1005.4" stroke="#000" stroke-width="2.7"/>
<text transform="translate(335.93 1037.9) scale(0.9171 1)" xml:space="preserve"><tspan x="0" y="0" font-size="30.5" font-family='"Liberation Sans", sans-serif'>20</tspan></text>
<line x1="470.62" y1="994.7" x2="470.62" y2="1005.4" stroke="#000" stroke-width="2.7"/>
<text transform="translate(455.28 1037.9) scale(0.9060 1)" xml:space="preserve"><tspan x="0" y="0" font-size="30.5" font-family='"Liberation Sans", sans-serif'>30</tspan></text>
<line x1="589.61" y1="994.7" x2="589.61" y2="1005.4" stroke="#000" stroke-width="2.7"/>
<text transform="translate(574.69 1037.9) scale(0.8931 1)" xml:space="preserve"><tspan x="0" y="0" font-size="30.5" font-family='"Liberation Sans", sans-serif'>40</tspan></text>
<rect x="124.45" y="624.75" width="233.05" height="131.7" fill="#fff" stroke="#000" stroke-width="3.7"/>
<rect x="143.4" y="639.2" width="15.2" height="15.2" fill="#4f0d6c"/>
<rect x="143.4" y="682.1" width="15.2" height="15.2" fill="#e15635"/>
<circle cx="151" cy="731.4" r="6" fill="#fff" stroke="#4f0d6c" stroke-width="3.1"/>
<text transform="translate(280.49 656.1) scale(1.1763 1)" xml:space="preserve"><tspan x="0" y="0" font-size="30.5" font-family='"Liberation Sans", sans-serif'>-</tspan></text>
<text transform="translate(291.57 656.13) scale(0.9914 1)" xml:space="preserve"><tspan x="0" y="0" font-size="26.85" font-family='"Liberation Sans", sans-serif'>scan</tspan></text>
<text transform="translate(257.11 656.1) scale(1.1241 1)" xml:space="preserve"><tspan x="0" y="0" font-size="30.5" font-family='"Liberation Serif", serif' font-style="italic">Q</tspan></text>
<text transform="translate(217.38 656.1) scale(1.0423 1)" xml:space="preserve"><tspan x="0" y="0" font-size="30.5" font-family='"Liberation Sans", sans-serif'>K</tspan></text>
<text transform="translate(237.87 656.1) scale(1.1770 1)" xml:space="preserve"><tspan x="0" y="0" font-size="30.5" font-family='"Liberation Sans", sans-serif'>,</tspan></text>
<text transform="translate(191.73 656.1) scale(0.9215 1)" xml:space="preserve"><tspan x="0" y="0" font-size="30.5" font-family='"Liberation Sans", sans-serif'>5</tspan></text>
<text transform="translate(280.49 698.9) scale(1.1763 1)" xml:space="preserve"><tspan x="0" y="0" font-size="30.5" font-family='"Liberation Sans", sans-serif'>-</tspan></text>
<text transform="translate(291.57 698.93) scale(0.9914 1)" xml:space="preserve"><tspan x="0" y="0" font-size="26.85" font-family='"Liberation Sans", sans-serif'>scan</tspan></text>
<text transform="translate(257.11 698.9) scale(1.1241 1)" xml:space="preserve"><tspan x="0" y="0" font-size="30.5" font-family='"Liberation Serif", serif' font-style="italic">Q</tspan></text>
<text transform="translate(217.38 698.9) scale(1.0423 1)" xml:space="preserve"><tspan x="0" y="0" font-size="30.5" font-family='"Liberation Sans", sans-serif'>K</tspan></text>
<text transform="translate(237.87 698.9) scale(1.1770 1)" xml:space="preserve"><tspan x="0" y="0" font-size="30.5" font-family='"Liberation Sans", sans-serif'>,</tspan></text>
<text transform="translate(176.13 698.9) scale(0.9193 1)" xml:space="preserve"><tspan x="0" y="0" font-size="30.5" font-family='"Liberation Sans", sans-serif'>70</tspan></text>
<text transform="translate(280.49 741.5) scale(1.1763 1)" xml:space="preserve"><tspan x="0" y="0" font-size="30.5" font-family='"Liberation Sans", sans-serif'>-</tspan></text>
<text transform="translate(291.57 741.53) scale(0.9914 1)" xml:space="preserve"><tspan x="0" y="0" font-size="26.85" font-family='"Liberation Sans", sans-serif'>scan</tspan></text>
<text transform="translate(260.07 741.5) scale(0.9368 1)" xml:space="preserve"><tspan x="0" y="0" font-size="30.5" font-family='"Liberation Serif", serif' font-style="italic">&#969;</tspan></text>
<text transform="translate(221.68 741.5) scale(1.0423 1)" xml:space="preserve"><tspan x="0" y="0" font-size="30.5" font-family='"Liberation Sans", sans-serif'>K</tspan></text>
<text transform="translate(242.17 741.5) scale(1.1770 1)" xml:space="preserve"><tspan x="0" y="0" font-size="30.5" font-family='"Liberation Sans", sans-serif'>,</tspan></text>
<text transform="translate(196.03 741.5) scale(0.9215 1)" xml:space="preserve"><tspan x="0" y="0" font-size="30.5" font-family='"Liberation Sans", sans-serif'>5</tspan></text>
<text transform="translate(44.98 576.85) scale(0.9525 1)" xml:space="preserve"><tspan x="0" y="0" font-size="33.99" font-family='"Liberation Sans", sans-serif'>(</tspan></text>
<text transform="translate(55.82 575.81) scale(0.9344 1)" xml:space="preserve"><tspan x="0" y="0" font-size="29.25" font-family='"Liberation Sans", sans-serif'>b</tspan></text>
<text transform="translate(72.57 576.85) scale(0.9077 1)" xml:space="preserve"><tspan x="0" y="0" font-size="33.99" font-family='"Liberation Sans", sans-serif'>)</tspan></text>
<text transform="translate(323.83 1078.91) scale(1.0159 1)" xml:space="preserve"><tspan x="0" y="0" font-size="29.37" font-family='"Liberation Serif", serif' font-style="italic">&#969;</tspan></text>
<text transform="translate(355.82 1079.74) scale(0.8966 1)" xml:space="preserve"><tspan x="0" y="0" font-size="33.57" font-family='"Liberation Sans", sans-serif'>(</tspan></text>
<text transform="translate(367.67 1078.74) scale(1.0592 1)" xml:space="preserve"><tspan x="0" y="0" font-size="25.57" font-family='"Liberation Sans", sans-serif'>me</tspan></text>
<text transform="translate(405.25 1078.7) scale(0.9762 1)" xml:space="preserve"><tspan x="0" y="0" font-size="30.69" font-family='"Liberation Sans", sans-serif'>V</tspan></text>
<text transform="translate(426.97 1079.74) scale(0.8966 1)" xml:space="preserve"><tspan x="0" y="0" font-size="33.57" font-family='"Liberation Sans", sans-serif'>)</tspan></text>
<g transform="rotate(-90)"><text transform="translate(-920.09 33.39) scale(0.9163 1)" xml:space="preserve"><tspan x="0" y="0" font-size="21.48" font-family='"Liberation Sans", sans-serif'>0</tspan></text><text transform="translate(-895.04 26.55) scale(1.0534 1)" xml:space="preserve"><tspan x="0" y="0" font-size="33.99" font-family='"Liberation Sans", sans-serif'>(</tspan></text><text transform="translate(-881.5 25.86) scale(1.1681 1)" xml:space="preserve"><tspan x="0" y="0" font-size="29.48" font-family='"Liberation Serif", serif' font-style="italic">&#956;</tspan></text><text transform="translate(-864.64 14.2) scale(1.1637 1)" xml:space="preserve"><tspan x="0" y="0" font-size="19.64" font-family='"Liberation Sans", sans-serif'>2</tspan></text><text transform="translate(-862.88 34.44) scale(1.1061 1)" xml:space="preserve"><tspan x="0" y="0" font-size="25.1" font-family='"Liberation Serif", serif' font-style="italic">B</tspan></text><text transform="translate(-833.41 25.93) scale(0.9747 1)" xml:space="preserve"><tspan x="0" y="0" font-size="26.85" font-family='"Liberation Sans", sans-serif'>e</tspan></text><text transform="translate(-819.65 26) scale(0.9782 1)" xml:space="preserve"><tspan x="0" y="0" font-size="31.56" font-family='"Liberation Sans", sans-serif'>V</tspan></text><text transform="translate(-798.19 14.7) scale(1.2539 1)" xml:space="preserve"><tspan x="0" y="0" font-size="20.65" font-family='"Liberation Sans", sans-serif'>&#8722;1</tspan></text><text transform="translate(-755.94 25.6) scale(1.2006 1)" xml:space="preserve"><tspan x="0" y="0" font-size="30.17" font-family='"Liberation Sans", sans-serif'>f</tspan></text><text transform="translate(-746.53 25.7) scale(1.0912 1)" xml:space="preserve"><tspan x="0" y="0" font-size="26.05" font-family='"Liberation Sans", sans-serif'>.</tspan></text><text transform="translate(-737.97 25.64) scale(1.0331 1)" xml:space="preserve"><tspan x="0" y="0" font-size="26.42" font-family='"Liberation Sans", sans-serif'>u</tspan></text><text transform="translate(-722.72 25.7) scale(1.1720 1)" xml:space="preserve"><tspan x="0" y="0" font-size="26.05" font-family='"Liberation Sans", sans-serif'>.</tspan></text><text transform="translate(-713.09 14.7) scale(1.2539 1)" xml:space="preserve"><tspan x="0" y="0" font-size="20.65" font-family='"Liberation Sans", sans-serif'>&#8722;1</tspan></text><text transform="translate(-679.83 26.55) scale(0.8965 1)" xml:space="preserve"><tspan x="0" y="0" font-size="33.99" font-family='"Liberation Sans", sans-serif'>)</tspan></text><g transform="rotate(90) translate(0 552.6)" fill="none" stroke="#000" stroke-linecap="round"><path d="M12.4 369.9 L31.3 386.1" stroke-width="1.5"/><path d="M12.8 385.5 C11.4 381.4 15.6 378.9 21.7 377.3 C27.5 375.6 33.2 373.6 30.4 369.8" stroke-width="2.5"/></g><path d="M3.6 908.7 L13.2 912.3" stroke="#000" stroke-width="2.3" stroke-linecap="round" transform="rotate(90)"/><path d="M3.6 915.8 L13.2 919.4" stroke="#000" stroke-width="2.3" stroke-linecap="round" transform="rotate(90)"/></g>
<rect x="465.9" y="1166.4" width="54.5" height="380.9" fill="url(#hatch)" stroke="#6666ff" stroke-width="2.4" clip-path="url(#cc)"/>
<path d="M113.65 1343.32 L116.37 1343.64 L119.09 1343.96 L121.8 1344.29 L124.52 1344.63 L127.24 1344.98 L129.96 1345.33 L132.67 1345.7 L135.39 1346.09 L138.11 1346.5 L140.83 1346.92 L143.55 1347.37 L146.26 1347.84 L148.98 1348.34 L151.7 1348.86 L154.42 1349.42 L157.13 1350.01 L159.85 1350.63 L162.57 1351.3 L165.29 1352 L168.01 1352.74 L170.72 1353.53 L173.44 1354.36 L176.16 1355.24 L178.88 1356.17 L181.59 1357.15 L184.31 1358.18 L187.03 1359.26 L189.75 1360.39 L192.47 1361.56 L195.18 1362.78 L197.9 1364.03 L200.62 1365.32 L203.34 1366.65 L206.06 1368 L208.77 1369.39 L211.49 1370.8 L214.21 1372.24 L216.93 1373.7 L219.64 1375.18 L222.36 1376.68 L225.08 1378.19 L227.8 1379.71 L230.52 1381.25 L233.23 1382.79 L235.95 1384.34 L238.67 1385.89 L241.39 1387.44 L244.1 1388.98 L246.82 1390.53 L249.54 1392.06 L252.26 1393.59 L254.98 1395.1 L257.69 1396.6 L260.41 1398.08 L263.13 1399.55 L265.85 1400.99 L268.56 1402.42 L271.28 1403.83 L274 1405.22 L276.36 1406.41 L278.71 1407.58 L281.07 1408.74 L283.42 1409.89 L285.78 1411.03 L288.14 1412.15 L290.49 1413.26 L292.85 1414.35 L295.2 1415.43 L297.56 1416.5 L299.92 1417.55 L302.27 1418.6 L304.63 1419.63 L306.98 1420.64 L309.34 1421.64 L311.7 1422.63 L314.05 1423.61 L316.41 1424.58 L318.76 1425.53 L321.12 1426.47 L323.48 1427.4 L325.83 1428.31 L328.19 1429.21 L330.54 1430.1 L332.9 1430.98 L335.26 1431.85 L337.61 1432.7 L339.97 1433.54 L342.32 1434.37 L344.68 1435.19 L347.04 1436 L349.39 1436.79 L351.75 1437.58 L354.1 1438.35 L356.46 1439.11 L358.82 1439.86 L361.17 1440.6 L363.53 1441.32 L365.88 1442.04 L368.24 1442.74 L370.59 1443.43 L372.95 1444.11 L375.31 1444.79 L377.66 1445.44 L380.02 1446.09 L382.37 1446.73 L384.73 1447.36 L387.09 1447.97 L389.44 1448.58 L391.8 1449.17 L394.15 1449.75 L396.51 1450.32 L398.87 1450.88 L401.22 1451.43 L403.58 1451.97 L405.93 1452.5 L408.29 1453.02 L410.65 1453.52 L413 1454.02 L415.36 1454.51 L417.71 1454.98 L420.07 1455.44 L422.43 1455.9 L424.78 1456.34 L427.14 1456.77 L429.49 1457.2 L431.85 1457.61 L434.21 1458.01 L436.56 1458.4 L438.92 1458.78 L441.27 1459.15 L443.63 1459.51 L445.99 1459.86 L448.34 1460.2 L450.7 1460.53 L453.05 1460.85 L455.41 1461.16 L457.77 1461.46 L460.12 1461.74 L462.48 1462.02 L464.83 1462.29 L467.19 1462.55 L469.55 1462.8 L471.9 1463.04 L474.26 1463.26 L476.61 1463.48 L478.97 1463.69 L481.33 1463.89 L483.68 1464.08 L486.04 1464.26 L488.39 1464.43 L490.75 1464.59 L493.11 1464.74 L495.46 1464.89 L497.82 1465.02 L500.17 1465.15 L502.53 1465.27 L504.89 1465.38 L507.24 1465.49 L509.6 1465.59 L511.95 1465.68 L514.31 1465.76 L516.67 1465.84 L519.02 1465.92 L521.38 1465.98 L523.73 1466.04 L526.09 1466.1 L528.45 1466.15 L530.8 1466.2 L533.16 1466.24 L535.51 1466.27 L537.87 1466.31 L540.23 1466.34 L542.58 1466.36 L544.94 1466.38 L547.29 1466.4 L549.65 1466.42 L552.01 1466.43 L554.36 1466.44 L556.72 1466.45 L559.07 1466.46 L561.43 1466.46 L563.78 1466.46 L566.14 1466.47 L568.5 1466.47 L570.85 1466.47 L573.21 1466.47 L575.56 1466.47 L577.92 1466.47 L580.28 1466.47 L582.63 1466.47 L584.99 1466.47 L587.34 1466.47 L589.7 1466.47 L592.06 1466.48 L594.41 1466.48 L596.77 1466.49 L599.12 1466.5 L601.48 1466.51 L603.84 1466.53 L606.19 1466.55 L608.55 1466.57 L610.9 1466.59 L613.26 1466.62 L615.62 1466.65 L617.97 1466.69 L620.33 1466.73 L622.68 1466.77 L625.04 1466.82 L627.4 1466.88 L629.75 1466.94 L632.11 1467.01 L634.46 1467.08 L636.82 1467.16 L639.18 1467.24 L641.53 1467.33 L643.89 1467.43 L646.24 1467.53 L648.6 1467.64" fill="none" stroke="#de5f65" stroke-width="4.5" stroke-linejoin="round" stroke-linecap="butt" clip-path="url(#cc)"/>
<path d="M113.65 1386.97 L116.37 1387.21 L119.09 1387.45 L121.8 1387.69 L124.52 1387.92 L127.24 1388.16 L129.96 1388.4 L132.67 1388.65 L135.39 1388.9 L138.11 1389.17 L140.83 1389.44 L143.55 1389.73 L146.26 1390.04 L148.98 1390.36 L151.7 1390.7 L154.42 1391.07 L157.13 1391.46 L159.85 1391.87 L162.57 1392.31 L165.29 1392.79 L168.01 1393.29 L170.72 1393.83 L173.44 1394.41 L176.16 1395.02 L178.88 1395.67 L181.59 1396.37 L184.31 1397.11 L187.03 1397.88 L189.75 1398.7 L192.47 1399.55 L195.18 1400.44 L197.9 1401.35 L200.62 1402.3 L203.34 1403.28 L206.06 1404.28 L208.77 1405.3 L211.49 1406.35 L214.21 1407.42 L216.93 1408.5 L219.64 1409.61 L222.36 1410.72 L225.08 1411.85 L227.8 1412.99 L230.52 1414.14 L233.23 1415.29 L235.95 1416.45 L238.67 1417.61 L241.39 1418.77 L244.1 1419.93 L246.82 1421.09 L249.54 1422.24 L252.26 1423.38 L254.98 1424.51 L257.69 1425.64 L260.41 1426.75 L263.13 1427.84 L265.85 1428.92 L268.56 1429.98 L271.28 1431.03 L274 1432.07 L276.36 1432.95 L278.71 1433.83 L281.07 1434.7 L283.42 1435.55 L285.78 1436.4 L288.14 1437.23 L290.49 1438.05 L292.85 1438.87 L295.2 1439.67 L297.56 1440.47 L299.92 1441.26 L302.27 1442.03 L304.63 1442.8 L306.98 1443.56 L309.34 1444.31 L311.7 1445.05 L314.05 1445.78 L316.41 1446.5 L318.76 1447.22 L321.12 1447.92 L323.48 1448.62 L325.83 1449.31 L328.19 1449.99 L330.54 1450.66 L332.9 1451.33 L335.26 1451.98 L337.61 1452.63 L339.97 1453.27 L342.32 1453.91 L344.68 1454.54 L347.04 1455.16 L349.39 1455.77 L351.75 1456.38 L354.1 1456.97 L356.46 1457.57 L358.82 1458.15 L361.17 1458.73 L363.53 1459.3 L365.88 1459.87 L368.24 1460.43 L370.59 1460.98 L372.95 1461.53 L375.31 1462.07 L377.66 1462.6 L380.02 1463.13 L382.37 1463.65 L384.73 1464.16 L387.09 1464.67 L389.44 1465.16 L391.8 1465.66 L394.15 1466.14 L396.51 1466.62 L398.87 1467.09 L401.22 1467.56 L403.58 1468.01 L405.93 1468.46 L408.29 1468.91 L410.65 1469.34 L413 1469.77 L415.36 1470.19 L417.71 1470.61 L420.07 1471.02 L422.43 1471.42 L424.78 1471.81 L427.14 1472.2 L429.49 1472.57 L431.85 1472.94 L434.21 1473.31 L436.56 1473.66 L438.92 1474.01 L441.27 1474.35 L443.63 1474.68 L445.99 1475.01 L448.34 1475.33 L450.7 1475.64 L453.05 1475.94 L455.41 1476.24 L457.77 1476.52 L460.12 1476.8 L462.48 1477.07 L464.83 1477.34 L467.19 1477.59 L469.55 1477.84 L471.9 1478.08 L474.26 1478.31 L476.61 1478.54 L478.97 1478.75 L481.33 1478.96 L483.68 1479.16 L486.04 1479.35 L488.39 1479.54 L490.75 1479.71 L493.11 1479.88 L495.46 1480.05 L497.82 1480.2 L500.17 1480.35 L502.53 1480.49 L504.89 1480.63 L507.24 1480.76 L509.6 1480.88 L511.95 1481 L514.31 1481.11 L516.67 1481.22 L519.02 1481.32 L521.38 1481.42 L523.73 1481.51 L526.09 1481.6 L528.45 1481.68 L530.8 1481.76 L533.16 1481.83 L535.51 1481.9 L537.87 1481.96 L540.23 1482.03 L542.58 1482.08 L544.94 1482.14 L547.29 1482.19 L549.65 1482.24 L552.01 1482.29 L554.36 1482.33 L556.72 1482.37 L559.07 1482.41 L561.43 1482.44 L563.78 1482.48 L566.14 1482.51 L568.5 1482.54 L570.85 1482.57 L573.21 1482.6 L575.56 1482.63 L577.92 1482.66 L580.28 1482.68 L582.63 1482.71 L584.99 1482.73 L587.34 1482.76 L589.7 1482.78 L592.06 1482.81 L594.41 1482.83 L596.77 1482.86 L599.12 1482.89 L601.48 1482.91 L603.84 1482.94 L606.19 1482.97 L608.55 1483.01 L610.9 1483.04 L613.26 1483.07 L615.62 1483.11 L617.97 1483.15 L620.33 1483.19 L622.68 1483.24 L625.04 1483.28 L627.4 1483.33 L629.75 1483.39 L632.11 1483.44 L634.46 1483.5 L636.82 1483.57 L639.18 1483.63 L641.53 1483.7 L643.89 1483.78 L646.24 1483.86 L648.6 1483.94" fill="none" stroke="#c33d80" stroke-width="4.5" stroke-linejoin="round" stroke-linecap="butt" clip-path="url(#cc)"/>
<path d="M113.65 1453.98 L116.37 1454.23 L119.09 1454.47 L121.8 1454.69 L124.52 1454.91 L127.24 1455.12 L129.96 1455.32 L132.67 1455.52 L135.39 1455.72 L138.11 1455.92 L140.83 1456.11 L143.55 1456.31 L146.26 1456.51 L148.98 1456.72 L151.7 1456.93 L154.42 1457.15 L157.13 1457.38 L159.85 1457.62 L162.57 1457.87 L165.29 1458.13 L168.01 1458.41 L170.72 1458.71 L173.44 1459.02 L176.16 1459.35 L178.88 1459.71 L181.59 1460.08 L184.31 1460.48 L187.03 1460.9 L189.75 1461.34 L192.47 1461.8 L195.18 1462.28 L197.9 1462.77 L200.62 1463.29 L203.34 1463.81 L206.06 1464.36 L208.77 1464.91 L211.49 1465.48 L214.21 1466.06 L216.93 1466.66 L219.64 1467.26 L222.36 1467.87 L225.08 1468.49 L227.8 1469.12 L230.52 1469.75 L233.23 1470.39 L235.95 1471.04 L238.67 1471.68 L241.39 1472.33 L244.1 1472.99 L246.82 1473.64 L249.54 1474.29 L252.26 1474.94 L254.98 1475.59 L257.69 1476.24 L260.41 1476.88 L263.13 1477.52 L265.85 1478.15 L268.56 1478.78 L271.28 1479.4 L274 1480.01 L276.36 1480.55 L278.71 1481.07 L281.07 1481.59 L283.42 1482.11 L285.78 1482.63 L288.14 1483.14 L290.49 1483.64 L292.85 1484.14 L295.2 1484.64 L297.56 1485.13 L299.92 1485.62 L302.27 1486.1 L304.63 1486.58 L306.98 1487.05 L309.34 1487.52 L311.7 1487.98 L314.05 1488.44 L316.41 1488.89 L318.76 1489.34 L321.12 1489.78 L323.48 1490.22 L325.83 1490.65 L328.19 1491.08 L330.54 1491.5 L332.9 1491.91 L335.26 1492.32 L337.61 1492.73 L339.97 1493.12 L342.32 1493.52 L344.68 1493.9 L347.04 1494.28 L349.39 1494.66 L351.75 1495.03 L354.1 1495.39 L356.46 1495.74 L358.82 1496.09 L361.17 1496.44 L363.53 1496.77 L365.88 1497.1 L368.24 1497.43 L370.59 1497.75 L372.95 1498.06 L375.31 1498.36 L377.66 1498.66 L380.02 1498.96 L382.37 1499.25 L384.73 1499.53 L387.09 1499.81 L389.44 1500.08 L391.8 1500.35 L394.15 1500.61 L396.51 1500.86 L398.87 1501.11 L401.22 1501.36 L403.58 1501.6 L405.93 1501.83 L408.29 1502.06 L410.65 1502.28 L413 1502.5 L415.36 1502.72 L417.71 1502.93 L420.07 1503.14 L422.43 1503.34 L424.78 1503.53 L427.14 1503.72 L429.49 1503.91 L431.85 1504.1 L434.21 1504.27 L436.56 1504.45 L438.92 1504.62 L441.27 1504.79 L443.63 1504.95 L445.99 1505.11 L448.34 1505.26 L450.7 1505.42 L453.05 1505.56 L455.41 1505.71 L457.77 1505.85 L460.12 1505.98 L462.48 1506.12 L464.83 1506.25 L467.19 1506.38 L469.55 1506.5 L471.9 1506.62 L474.26 1506.74 L476.61 1506.85 L478.97 1506.96 L481.33 1507.07 L483.68 1507.18 L486.04 1507.28 L488.39 1507.38 L490.75 1507.48 L493.11 1507.58 L495.46 1507.67 L497.82 1507.76 L500.17 1507.85 L502.53 1507.94 L504.89 1508.02 L507.24 1508.1 L509.6 1508.18 L511.95 1508.25 L514.31 1508.33 L516.67 1508.4 L519.02 1508.47 L521.38 1508.54 L523.73 1508.6 L526.09 1508.66 L528.45 1508.73 L530.8 1508.79 L533.16 1508.84 L535.51 1508.9 L537.87 1508.95 L540.23 1509 L542.58 1509.05 L544.94 1509.1 L547.29 1509.15 L549.65 1509.19 L552.01 1509.24 L554.36 1509.28 L556.72 1509.32 L559.07 1509.36 L561.43 1509.4 L563.78 1509.43 L566.14 1509.47 L568.5 1509.5 L570.85 1509.53 L573.21 1509.56 L575.56 1509.59 L577.92 1509.62 L580.28 1509.65 L582.63 1509.68 L584.99 1509.7 L587.34 1509.73 L589.7 1509.75 L592.06 1509.77 L594.41 1509.8 L596.77 1509.82 L599.12 1509.84 L601.48 1509.86 L603.84 1509.88 L606.19 1509.89 L608.55 1509.91 L610.9 1509.93 L613.26 1509.94 L615.62 1509.96 L617.97 1509.98 L620.33 1509.99 L622.68 1510.01 L625.04 1510.02 L627.4 1510.03 L629.75 1510.05 L632.11 1510.06 L634.46 1510.08 L636.82 1510.09 L639.18 1510.1 L641.53 1510.12 L643.89 1510.13 L646.24 1510.14 L648.6 1510.16" fill="none" stroke="#a01a9c" stroke-width="4.5" stroke-linejoin="round" stroke-linecap="butt" clip-path="url(#cc)"/>
<path d="M113.65 1472.99 L116.37 1473.15 L119.09 1473.29 L121.8 1473.43 L124.52 1473.56 L127.24 1473.68 L129.96 1473.8 L132.67 1473.92 L135.39 1474.03 L138.11 1474.15 L140.83 1474.26 L143.55 1474.38 L146.26 1474.49 L148.98 1474.62 L151.7 1474.74 L154.42 1474.87 L157.13 1475.01 L159.85 1475.16 L162.57 1475.32 L165.29 1475.49 L168.01 1475.67 L170.72 1475.87 L173.44 1476.07 L176.16 1476.3 L178.88 1476.54 L181.59 1476.8 L184.31 1477.07 L187.03 1477.37 L189.75 1477.68 L192.47 1478 L195.18 1478.34 L197.9 1478.69 L200.62 1479.06 L203.34 1479.44 L206.06 1479.83 L208.77 1480.24 L211.49 1480.65 L214.21 1481.08 L216.93 1481.51 L219.64 1481.95 L222.36 1482.4 L225.08 1482.86 L227.8 1483.32 L230.52 1483.79 L233.23 1484.26 L235.95 1484.73 L238.67 1485.21 L241.39 1485.69 L244.1 1486.18 L246.82 1486.66 L249.54 1487.15 L252.26 1487.63 L254.98 1488.12 L257.69 1488.6 L260.41 1489.08 L263.13 1489.55 L265.85 1490.03 L268.56 1490.5 L271.28 1490.96 L274 1491.42 L276.36 1491.82 L278.71 1492.22 L281.07 1492.61 L283.42 1493 L285.78 1493.39 L288.14 1493.77 L290.49 1494.15 L292.85 1494.53 L295.2 1494.9 L297.56 1495.28 L299.92 1495.65 L302.27 1496.01 L304.63 1496.37 L306.98 1496.73 L309.34 1497.09 L311.7 1497.44 L314.05 1497.79 L316.41 1498.14 L318.76 1498.48 L321.12 1498.82 L323.48 1499.16 L325.83 1499.49 L328.19 1499.82 L330.54 1500.14 L332.9 1500.46 L335.26 1500.78 L337.61 1501.09 L339.97 1501.4 L342.32 1501.71 L344.68 1502.01 L347.04 1502.31 L349.39 1502.6 L351.75 1502.89 L354.1 1503.18 L356.46 1503.46 L358.82 1503.74 L361.17 1504.01 L363.53 1504.28 L365.88 1504.55 L368.24 1504.81 L370.59 1505.06 L372.95 1505.32 L375.31 1505.57 L377.66 1505.81 L380.02 1506.05 L382.37 1506.29 L384.73 1506.52 L387.09 1506.75 L389.44 1506.97 L391.8 1507.19 L394.15 1507.41 L396.51 1507.62 L398.87 1507.83 L401.22 1508.04 L403.58 1508.24 L405.93 1508.44 L408.29 1508.63 L410.65 1508.82 L413 1509.01 L415.36 1509.19 L417.71 1509.37 L420.07 1509.55 L422.43 1509.72 L424.78 1509.89 L427.14 1510.05 L429.49 1510.22 L431.85 1510.37 L434.21 1510.53 L436.56 1510.68 L438.92 1510.83 L441.27 1510.97 L443.63 1511.12 L445.99 1511.25 L448.34 1511.39 L450.7 1511.52 L453.05 1511.65 L455.41 1511.78 L457.77 1511.9 L460.12 1512.02 L462.48 1512.13 L464.83 1512.25 L467.19 1512.36 L469.55 1512.46 L471.9 1512.57 L474.26 1512.67 L476.61 1512.77 L478.97 1512.86 L481.33 1512.95 L483.68 1513.04 L486.04 1513.13 L488.39 1513.21 L490.75 1513.3 L493.11 1513.37 L495.46 1513.45 L497.82 1513.52 L500.17 1513.6 L502.53 1513.67 L504.89 1513.73 L507.24 1513.8 L509.6 1513.86 L511.95 1513.92 L514.31 1513.98 L516.67 1514.03 L519.02 1514.09 L521.38 1514.14 L523.73 1514.19 L526.09 1514.24 L528.45 1514.29 L530.8 1514.34 L533.16 1514.38 L535.51 1514.43 L537.87 1514.47 L540.23 1514.51 L542.58 1514.55 L544.94 1514.59 L547.29 1514.62 L549.65 1514.66 L552.01 1514.7 L554.36 1514.73 L556.72 1514.76 L559.07 1514.8 L561.43 1514.83 L563.78 1514.86 L566.14 1514.89 L568.5 1514.92 L570.85 1514.95 L573.21 1514.98 L575.56 1515.01 L577.92 1515.04 L580.28 1515.07 L582.63 1515.1 L584.99 1515.13 L587.34 1515.15 L589.7 1515.18 L592.06 1515.21 L594.41 1515.24 L596.77 1515.27 L599.12 1515.3 L601.48 1515.33 L603.84 1515.36 L606.19 1515.39 L608.55 1515.42 L610.9 1515.46 L613.26 1515.49 L615.62 1515.52 L617.97 1515.56 L620.33 1515.59 L622.68 1515.63 L625.04 1515.67 L627.4 1515.71 L629.75 1515.75 L632.11 1515.79 L634.46 1515.83 L636.82 1515.87 L639.18 1515.92 L641.53 1515.97 L643.89 1516.02 L646.24 1516.07 L648.6 1516.12" fill="none" stroke="#8a09a5" stroke-width="4.5" stroke-linejoin="round" stroke-linecap="butt" clip-path="url(#cc)"/>
<path d="M114.5 1547.4 L114.98 1546.08 L115.46 1544.63 L115.94 1542.93 L116.42 1540.96 L116.9 1538.92 L117.38 1537 L117.86 1535.39 L118.34 1534.15 L118.82 1533.01 L119.3 1531.94 L119.78 1530.96 L120.26 1530.06 L120.74 1529.24 L121.22 1528.51 L121.69 1527.86 L122.17 1527.31 L122.65 1526.8 L123.13 1526.33 L123.61 1525.9 L124.09 1525.5 L124.57 1525.12 L125.05 1524.77 L125.53 1524.43 L126.01 1524.11 L126.49 1523.8 L126.97 1523.49 L127.45 1523.18 L127.93 1522.88 L128.41 1522.56 L128.89 1522.25 L129.37 1521.93 L129.85 1521.62 L130.33 1521.31 L130.81 1521 L131.29 1520.7 L131.77 1520.39 L132.25 1520.09 L132.73 1519.8 L133.21 1519.5 L133.69 1519.21 L134.17 1518.92 L134.65 1518.64 L135.13 1518.36 L135.61 1518.08 L136.08 1517.81 L136.56 1517.55 L137.04 1517.29 L137.52 1517.04 L138 1516.79 L138.48 1516.55 L138.96 1516.31 L139.44 1516.09 L139.92 1515.86 L140.4 1515.65 L140.88 1515.44 L141.36 1515.25 L141.84 1515.06 L142.32 1514.87 L142.8 1514.7 L145.98 1513.66 L149.16 1512.77 L152.34 1511.98 L155.52 1511.26 L158.71 1510.58 L161.89 1509.89 L165.07 1509.2 L168.25 1508.51 L171.43 1507.85 L174.61 1507.23 L177.79 1506.69 L180.97 1506.23 L184.15 1505.87 L187.34 1505.61 L190.52 1505.37 L193.7 1505.14 L196.88 1504.93 L200.06 1504.76 L203.24 1504.63 L206.42 1504.54 L209.6 1504.5 L212.78 1504.53 L215.97 1504.62 L219.15 1504.77 L222.33 1504.96 L225.51 1505.2 L228.69 1505.46 L231.87 1505.75 L235.05 1506.04 L238.23 1506.34 L241.42 1506.64 L244.6 1506.98 L247.78 1507.38 L250.96 1507.82 L254.14 1508.3 L257.32 1508.8 L260.5 1509.32 L263.68 1509.84 L266.86 1510.37 L270.05 1510.88 L273.23 1511.38 L276.41 1511.87 L279.59 1512.37 L282.77 1512.89 L285.95 1513.4 L289.13 1513.91 L292.31 1514.41 L295.49 1514.88 L298.68 1515.33 L301.86 1515.74 L305.04 1516.13 L308.22 1516.52 L311.4 1516.89 L314.58 1517.24 L317.76 1517.59 L320.94 1517.92 L324.12 1518.24 L327.31 1518.55 L330.49 1518.84 L333.67 1519.12 L336.85 1519.38 L340.03 1519.63 L343.21 1519.88 L346.39 1520.12 L349.57 1520.37 L352.75 1520.62 L355.94 1520.88 L359.12 1521.14 L362.3 1521.4 L365.48 1521.67 L368.66 1521.93 L371.84 1522.19 L375.02 1522.44 L378.2 1522.69 L381.38 1522.92 L384.57 1523.15 L387.75 1523.36 L390.93 1523.56 L394.11 1523.74 L397.29 1523.93 L400.47 1524.1 L403.65 1524.27 L406.83 1524.44 L410.02 1524.6 L413.2 1524.75 L416.38 1524.9 L419.56 1525.05 L422.74 1525.19 L425.92 1525.33 L429.1 1525.46 L432.28 1525.6 L435.46 1525.74 L438.65 1525.88 L441.83 1526.02 L445.01 1526.15 L448.19 1526.26 L451.37 1526.34 L454.55 1526.4 L457.73 1526.42 L460.91 1526.45 L464.09 1526.48 L467.28 1526.5 L470.46 1526.52 L473.64 1526.54 L476.82 1526.56 L480 1526.57 L483.18 1526.58 L486.36 1526.59 L489.54 1526.6 L492.72 1526.6 L495.91 1526.6 L499.09 1526.59 L502.27 1526.58 L505.45 1526.56 L508.63 1526.53 L511.81 1526.5 L514.99 1526.46 L518.17 1526.42 L521.35 1526.38 L524.54 1526.34 L527.72 1526.3 L530.9 1526.25 L534.08 1526.21 L537.26 1526.17 L540.44 1526.13 L543.62 1526.08 L546.8 1526.03 L549.98 1525.97 L553.17 1525.92 L556.35 1525.86 L559.53 1525.81 L562.71 1525.75 L565.89 1525.69 L569.07 1525.63 L572.25 1525.57 L575.43 1525.51 L578.62 1525.45 L581.8 1525.38 L584.98 1525.32 L588.16 1525.25 L591.34 1525.18 L594.52 1525.12 L597.7 1525.05 L600.88 1524.98 L604.06 1524.91 L607.25 1524.84 L610.43 1524.78 L613.61 1524.71 L616.79 1524.64 L619.97 1524.56 L623.15 1524.49 L626.33 1524.42 L629.51 1524.35 L632.69 1524.28 L635.88 1524.2 L639.06 1524.13 L642.24 1524.05 L645.42 1523.98 L648.6 1523.9" fill="none" stroke="#7401a8" stroke-width="4.5" stroke-linejoin="round" stroke-linecap="butt" clip-path="url(#cc)"/>
<path d="M113.9 1547.4 L114.68 1545.58 L115.46 1544.05 L116.24 1543.04 L117.03 1542.33 L117.81 1541.76 L118.59 1541.27 L119.37 1540.84 L120.15 1540.42 L120.93 1540.01 L121.71 1539.62 L122.49 1539.25 L123.28 1538.89 L124.06 1538.56 L124.84 1538.24 L125.62 1537.93 L126.4 1537.64 L127.18 1537.35 L127.96 1537.08 L128.75 1536.82 L129.53 1536.56 L130.31 1536.3 L131.09 1536.06 L131.87 1535.82 L132.65 1535.58 L133.43 1535.35 L134.22 1535.13 L135 1534.91 L135.78 1534.69 L136.56 1534.49 L137.34 1534.28 L138.12 1534.09 L138.9 1533.89 L139.68 1533.7 L140.47 1533.52 L141.25 1533.34 L142.03 1533.17 L142.81 1533 L143.59 1532.83 L144.37 1532.67 L145.15 1532.51 L145.94 1532.35 L146.72 1532.19 L147.5 1532.04 L148.28 1531.88 L149.06 1531.74 L149.84 1531.59 L150.62 1531.45 L151.41 1531.31 L152.19 1531.17 L152.97 1531.04 L153.75 1530.91 L154.53 1530.78 L155.31 1530.66 L156.09 1530.54 L156.87 1530.43 L157.66 1530.31 L158.44 1530.2 L159.22 1530.1 L160 1530 L163.07 1529.62 L166.15 1529.26 L169.22 1528.91 L172.29 1528.59 L175.36 1528.3 L178.44 1528.04 L181.51 1527.81 L184.58 1527.62 L187.66 1527.46 L190.73 1527.3 L193.8 1527.15 L196.88 1527.01 L199.95 1526.89 L203.02 1526.8 L206.09 1526.73 L209.17 1526.7 L212.24 1526.7 L215.31 1526.71 L218.39 1526.73 L221.46 1526.75 L224.53 1526.78 L227.61 1526.82 L230.68 1526.86 L233.75 1526.9 L236.82 1526.95 L239.9 1527 L242.97 1527.06 L246.04 1527.15 L249.12 1527.25 L252.19 1527.38 L255.26 1527.52 L258.33 1527.67 L261.41 1527.83 L264.48 1528 L267.55 1528.16 L270.63 1528.33 L273.7 1528.48 L276.77 1528.65 L279.85 1528.82 L282.92 1529.01 L285.99 1529.2 L289.06 1529.4 L292.14 1529.58 L295.21 1529.76 L298.28 1529.92 L301.36 1530.06 L304.43 1530.2 L307.5 1530.33 L310.57 1530.46 L313.65 1530.59 L316.72 1530.71 L319.79 1530.82 L322.87 1530.92 L325.94 1531 L329.01 1531.08 L332.09 1531.14 L335.16 1531.19 L338.23 1531.23 L341.3 1531.27 L344.38 1531.31 L347.45 1531.36 L350.52 1531.41 L353.6 1531.48 L356.67 1531.55 L359.74 1531.64 L362.82 1531.73 L365.89 1531.83 L368.96 1531.93 L372.03 1532.04 L375.11 1532.14 L378.18 1532.24 L381.25 1532.34 L384.33 1532.44 L387.4 1532.53 L390.47 1532.61 L393.54 1532.69 L396.62 1532.78 L399.69 1532.86 L402.76 1532.95 L405.84 1533.04 L408.91 1533.12 L411.98 1533.2 L415.06 1533.27 L418.13 1533.34 L421.2 1533.39 L424.27 1533.44 L427.35 1533.48 L430.42 1533.5 L433.49 1533.52 L436.57 1533.54 L439.64 1533.56 L442.71 1533.57 L445.78 1533.58 L448.86 1533.59 L451.93 1533.6 L455 1533.6 L458.08 1533.6 L461.15 1533.59 L464.22 1533.58 L467.3 1533.57 L470.37 1533.56 L473.44 1533.54 L476.51 1533.52 L479.59 1533.5 L482.66 1533.48 L485.73 1533.46 L488.81 1533.44 L491.88 1533.42 L494.95 1533.4 L498.03 1533.38 L501.1 1533.36 L504.17 1533.34 L507.24 1533.31 L510.32 1533.29 L513.39 1533.26 L516.46 1533.23 L519.54 1533.21 L522.61 1533.18 L525.68 1533.16 L528.75 1533.14 L531.83 1533.12 L534.9 1533.1 L537.97 1533.09 L541.05 1533.07 L544.12 1533.06 L547.19 1533.05 L550.27 1533.04 L553.34 1533.03 L556.41 1533.02 L559.48 1533 L562.56 1532.99 L565.63 1532.97 L568.7 1532.95 L571.78 1532.92 L574.85 1532.9 L577.92 1532.88 L580.99 1532.85 L584.07 1532.82 L587.14 1532.8 L590.21 1532.77 L593.29 1532.75 L596.36 1532.73 L599.43 1532.7 L602.51 1532.68 L605.58 1532.66 L608.65 1532.64 L611.72 1532.62 L614.8 1532.6 L617.87 1532.58 L620.94 1532.56 L624.02 1532.54 L627.09 1532.52 L630.16 1532.51 L633.24 1532.49 L636.31 1532.47 L639.38 1532.45 L642.45 1532.43 L645.53 1532.42 L648.6 1532.4" fill="none" stroke="#5c01a6" stroke-width="4.5" stroke-linejoin="round" stroke-linecap="butt" clip-path="url(#cc)"/>
<line x1="124.36" y1="1539.68" x2="124.36" y2="1548.82" stroke="#5c01a6" stroke-width="4.5" clip-path="url(#cc)"/>
<line x1="162.91" y1="1523.07" x2="162.91" y2="1547.45" stroke="#5c01a6" stroke-width="4.5" clip-path="url(#cc)"/>
<line x1="190.75" y1="1510.89" x2="190.75" y2="1529.17" stroke="#5c01a6" stroke-width="4.5" clip-path="url(#cc)"/>
<line x1="274.28" y1="1520.94" x2="274.28" y2="1533.13" stroke="#5c01a6" stroke-width="4.5" clip-path="url(#cc)"/>
<line x1="381.38" y1="1527.95" x2="381.38" y2="1537.09" stroke="#5c01a6" stroke-width="4.5" clip-path="url(#cc)"/>
<line x1="488.47" y1="1531.15" x2="488.47" y2="1540.29" stroke="#5c01a6" stroke-width="4.5" clip-path="url(#cc)"/>
<line x1="595.56" y1="1528.26" x2="595.56" y2="1537.4" stroke="#5c01a6" stroke-width="4.5" clip-path="url(#cc)"/>
<line x1="124.36" y1="1523.99" x2="124.36" y2="1533.13" stroke="#7401a8" stroke-width="4.5" clip-path="url(#cc)"/>
<line x1="162.91" y1="1498.39" x2="162.91" y2="1513.63" stroke="#7401a8" stroke-width="4.5" clip-path="url(#cc)"/>
<line x1="190.75" y1="1493.36" x2="190.75" y2="1512.56" stroke="#7401a8" stroke-width="4.5" clip-path="url(#cc)"/>
<line x1="274.28" y1="1505.55" x2="274.28" y2="1517.74" stroke="#7401a8" stroke-width="4.5" clip-path="url(#cc)"/>
<line x1="381.38" y1="1519.27" x2="381.38" y2="1528.41" stroke="#7401a8" stroke-width="4.5" clip-path="url(#cc)"/>
<line x1="488.47" y1="1522.92" x2="488.47" y2="1532.06" stroke="#7401a8" stroke-width="4.5" clip-path="url(#cc)"/>
<line x1="595.56" y1="1522.47" x2="595.56" y2="1531.61" stroke="#7401a8" stroke-width="4.5" clip-path="url(#cc)"/>
<line x1="124.36" y1="1468.23" x2="124.36" y2="1480.41" stroke="#8a09a5" stroke-width="4.5" clip-path="url(#cc)"/>
<line x1="162.91" y1="1466.85" x2="162.91" y2="1482.09" stroke="#8a09a5" stroke-width="4.5" clip-path="url(#cc)"/>
<line x1="190.75" y1="1467.01" x2="190.75" y2="1483.77" stroke="#8a09a5" stroke-width="4.5" clip-path="url(#cc)"/>
<line x1="274.28" y1="1485.14" x2="274.28" y2="1497.33" stroke="#8a09a5" stroke-width="4.5" clip-path="url(#cc)"/>
<line x1="381.38" y1="1500.07" x2="381.38" y2="1512.26" stroke="#8a09a5" stroke-width="4.5" clip-path="url(#cc)"/>
<line x1="488.47" y1="1505.86" x2="488.47" y2="1518.05" stroke="#8a09a5" stroke-width="4.5" clip-path="url(#cc)"/>
<line x1="595.56" y1="1510.58" x2="595.56" y2="1522.77" stroke="#8a09a5" stroke-width="4.5" clip-path="url(#cc)"/>
<line x1="124.36" y1="1444.91" x2="124.36" y2="1457.1" stroke="#a01a9c" stroke-width="4.5" clip-path="url(#cc)"/>
<line x1="162.91" y1="1444.91" x2="162.91" y2="1460.15" stroke="#a01a9c" stroke-width="4.5" clip-path="url(#cc)"/>
<line x1="190.75" y1="1458.93" x2="190.75" y2="1475.69" stroke="#a01a9c" stroke-width="4.5" clip-path="url(#cc)"/>
<line x1="274.28" y1="1473.71" x2="274.28" y2="1485.9" stroke="#a01a9c" stroke-width="4.5" clip-path="url(#cc)"/>
<line x1="381.38" y1="1492.3" x2="381.38" y2="1504.49" stroke="#a01a9c" stroke-width="4.5" clip-path="url(#cc)"/>
<line x1="488.47" y1="1499.61" x2="488.47" y2="1511.8" stroke="#a01a9c" stroke-width="4.5" clip-path="url(#cc)"/>
<line x1="595.56" y1="1505.71" x2="595.56" y2="1517.89" stroke="#a01a9c" stroke-width="4.5" clip-path="url(#cc)"/>
<line x1="124.36" y1="1369.95" x2="124.36" y2="1387.93" stroke="#c33d80" stroke-width="4.5" clip-path="url(#cc)"/>
<line x1="162.91" y1="1371.93" x2="162.91" y2="1389.91" stroke="#c33d80" stroke-width="4.5" clip-path="url(#cc)"/>
<line x1="190.75" y1="1406.37" x2="190.75" y2="1424.35" stroke="#c33d80" stroke-width="4.5" clip-path="url(#cc)"/>
<line x1="274.28" y1="1425.72" x2="274.28" y2="1442.48" stroke="#c33d80" stroke-width="4.5" clip-path="url(#cc)"/>
<line x1="381.38" y1="1451.31" x2="381.38" y2="1463.5" stroke="#c33d80" stroke-width="4.5" clip-path="url(#cc)"/>
<line x1="488.47" y1="1472.95" x2="488.47" y2="1485.14" stroke="#c33d80" stroke-width="4.5" clip-path="url(#cc)"/>
<line x1="595.56" y1="1481.33" x2="595.56" y2="1493.52" stroke="#c33d80" stroke-width="4.5" clip-path="url(#cc)"/>
<line x1="124.36" y1="1332.78" x2="124.36" y2="1351.06" stroke="#de5f65" stroke-width="4.5" clip-path="url(#cc)"/>
<line x1="162.91" y1="1328.51" x2="162.91" y2="1349.84" stroke="#de5f65" stroke-width="4.5" clip-path="url(#cc)"/>
<line x1="190.75" y1="1360.66" x2="190.75" y2="1378.94" stroke="#de5f65" stroke-width="4.5" clip-path="url(#cc)"/>
<line x1="274.28" y1="1401.34" x2="274.28" y2="1418.1" stroke="#de5f65" stroke-width="4.5" clip-path="url(#cc)"/>
<line x1="381.38" y1="1433.33" x2="381.38" y2="1445.52" stroke="#de5f65" stroke-width="4.5" clip-path="url(#cc)"/>
<line x1="488.47" y1="1454.36" x2="488.47" y2="1469.6" stroke="#de5f65" stroke-width="4.5" clip-path="url(#cc)"/>
<line x1="595.56" y1="1467.62" x2="595.56" y2="1482.85" stroke="#de5f65" stroke-width="4.5" clip-path="url(#cc)"/>
<line x1="124.36" y1="1330.49" x2="124.36" y2="1364.01" stroke="#f99a3e" stroke-width="4.5" clip-path="url(#cc)"/>
<line x1="162.91" y1="1311.9" x2="162.91" y2="1348.47" stroke="#f99a3e" stroke-width="4.5" clip-path="url(#cc)"/>
<line x1="190.75" y1="1344.36" x2="190.75" y2="1374.83" stroke="#f99a3e" stroke-width="4.5" clip-path="url(#cc)"/>
<line x1="274.28" y1="1404.08" x2="274.28" y2="1432.12" stroke="#f99a3e" stroke-width="4.5" clip-path="url(#cc)"/>
<line x1="381.38" y1="1448.72" x2="381.38" y2="1470.66" stroke="#f99a3e" stroke-width="4.5" clip-path="url(#cc)"/>
<line x1="488.47" y1="1461.52" x2="488.47" y2="1479.8" stroke="#f99a3e" stroke-width="4.5" clip-path="url(#cc)"/>
<line x1="595.56" y1="1465.94" x2="595.56" y2="1496.41" stroke="#f99a3e" stroke-width="4.5" clip-path="url(#cc)"/>
<line x1="124.36" y1="1312.82" x2="124.36" y2="1355.48" stroke="#fdb130" stroke-width="4.5" clip-path="url(#cc)"/>
<line x1="162.91" y1="1312.21" x2="162.91" y2="1348.77" stroke="#fdb130" stroke-width="4.5" clip-path="url(#cc)"/>
<line x1="190.75" y1="1334.76" x2="190.75" y2="1369.8" stroke="#fdb130" stroke-width="4.5" clip-path="url(#cc)"/>
<line x1="274.28" y1="1392.2" x2="274.28" y2="1422.06" stroke="#fdb130" stroke-width="4.5" clip-path="url(#cc)"/>
<line x1="381.38" y1="1439.58" x2="381.38" y2="1457.86" stroke="#fdb130" stroke-width="4.5" clip-path="url(#cc)"/>
<line x1="488.47" y1="1429.98" x2="488.47" y2="1477.82" stroke="#fdb130" stroke-width="4.5" clip-path="url(#cc)"/>
<line x1="595.56" y1="1419.17" x2="595.56" y2="1504.49" stroke="#fdb130" stroke-width="4.5" clip-path="url(#cc)"/>
<circle cx="124.36" cy="1544.25" r="8" fill="#5c01a6" clip-path="url(#cc)"/>
<circle cx="162.91" cy="1535.26" r="8" fill="#5c01a6" clip-path="url(#cc)"/>
<circle cx="190.75" cy="1520.03" r="8" fill="#5c01a6" clip-path="url(#cc)"/>
<circle cx="274.28" cy="1527.04" r="8" fill="#5c01a6" clip-path="url(#cc)"/>
<circle cx="381.38" cy="1532.52" r="8" fill="#5c01a6" clip-path="url(#cc)"/>
<circle cx="488.47" cy="1535.72" r="8" fill="#5c01a6" clip-path="url(#cc)"/>
<circle cx="595.56" cy="1532.83" r="8" fill="#5c01a6" clip-path="url(#cc)"/>
<circle cx="124.36" cy="1528.56" r="8" fill="#7401a8" clip-path="url(#cc)"/>
<circle cx="162.91" cy="1506.01" r="8" fill="#7401a8" clip-path="url(#cc)"/>
<circle cx="190.75" cy="1502.96" r="8" fill="#7401a8" clip-path="url(#cc)"/>
<circle cx="274.28" cy="1511.65" r="8" fill="#7401a8" clip-path="url(#cc)"/>
<circle cx="381.38" cy="1523.84" r="8" fill="#7401a8" clip-path="url(#cc)"/>
<circle cx="488.47" cy="1527.49" r="8" fill="#7401a8" clip-path="url(#cc)"/>
<circle cx="595.56" cy="1527.04" r="8" fill="#7401a8" clip-path="url(#cc)"/>
<circle cx="124.36" cy="1474.32" r="8" fill="#8a09a5" clip-path="url(#cc)"/>
<circle cx="162.91" cy="1474.47" r="8" fill="#8a09a5" clip-path="url(#cc)"/>
<circle cx="190.75" cy="1475.39" r="8" fill="#8a09a5" clip-path="url(#cc)"/>
<circle cx="274.28" cy="1491.23" r="8" fill="#8a09a5" clip-path="url(#cc)"/>
<circle cx="381.38" cy="1506.16" r="8" fill="#8a09a5" clip-path="url(#cc)"/>
<circle cx="488.47" cy="1511.95" r="8" fill="#8a09a5" clip-path="url(#cc)"/>
<circle cx="595.56" cy="1516.68" r="8" fill="#8a09a5" clip-path="url(#cc)"/>
<circle cx="124.36" cy="1451.01" r="8" fill="#a01a9c" clip-path="url(#cc)"/>
<circle cx="162.91" cy="1452.53" r="8" fill="#a01a9c" clip-path="url(#cc)"/>
<circle cx="190.75" cy="1467.31" r="8" fill="#a01a9c" clip-path="url(#cc)"/>
<circle cx="274.28" cy="1479.8" r="8" fill="#a01a9c" clip-path="url(#cc)"/>
<circle cx="381.38" cy="1498.39" r="8" fill="#a01a9c" clip-path="url(#cc)"/>
<circle cx="488.47" cy="1505.71" r="8" fill="#a01a9c" clip-path="url(#cc)"/>
<circle cx="595.56" cy="1511.8" r="8" fill="#a01a9c" clip-path="url(#cc)"/>
<circle cx="124.36" cy="1378.94" r="8" fill="#c33d80" clip-path="url(#cc)"/>
<circle cx="162.91" cy="1380.92" r="8" fill="#c33d80" clip-path="url(#cc)"/>
<circle cx="190.75" cy="1415.36" r="8" fill="#c33d80" clip-path="url(#cc)"/>
<circle cx="274.28" cy="1434.1" r="8" fill="#c33d80" clip-path="url(#cc)"/>
<circle cx="381.38" cy="1457.41" r="8" fill="#c33d80" clip-path="url(#cc)"/>
<circle cx="488.47" cy="1479.04" r="8" fill="#c33d80" clip-path="url(#cc)"/>
<circle cx="595.56" cy="1487.42" r="8" fill="#c33d80" clip-path="url(#cc)"/>
<circle cx="124.36" cy="1341.92" r="8" fill="#de5f65" clip-path="url(#cc)"/>
<circle cx="162.91" cy="1339.18" r="8" fill="#de5f65" clip-path="url(#cc)"/>
<circle cx="190.75" cy="1369.8" r="8" fill="#de5f65" clip-path="url(#cc)"/>
<circle cx="274.28" cy="1409.72" r="8" fill="#de5f65" clip-path="url(#cc)"/>
<circle cx="381.38" cy="1439.43" r="8" fill="#de5f65" clip-path="url(#cc)"/>
<circle cx="488.47" cy="1461.98" r="8" fill="#de5f65" clip-path="url(#cc)"/>
<circle cx="595.56" cy="1475.23" r="8" fill="#de5f65" clip-path="url(#cc)"/>
<circle cx="124.36" cy="1347.25" r="8" fill="#f99a3e" clip-path="url(#cc)"/>
<circle cx="162.91" cy="1330.19" r="8" fill="#f99a3e" clip-path="url(#cc)"/>
<circle cx="190.75" cy="1359.59" r="8" fill="#f99a3e" clip-path="url(#cc)"/>
<circle cx="274.28" cy="1418.1" r="8" fill="#f99a3e" clip-path="url(#cc)"/>
<circle cx="381.38" cy="1459.69" r="8" fill="#f99a3e" clip-path="url(#cc)"/>
<circle cx="488.47" cy="1470.66" r="8" fill="#f99a3e" clip-path="url(#cc)"/>
<circle cx="595.56" cy="1481.18" r="8" fill="#f99a3e" clip-path="url(#cc)"/>
<circle cx="124.36" cy="1334.15" r="8" fill="#fdb130" clip-path="url(#cc)"/>
<circle cx="162.91" cy="1330.49" r="8" fill="#fdb130" clip-path="url(#cc)"/>
<circle cx="190.75" cy="1352.28" r="8" fill="#fdb130" clip-path="url(#cc)"/>
<circle cx="274.28" cy="1407.13" r="8" fill="#fdb130" clip-path="url(#cc)"/>
<circle cx="381.38" cy="1448.72" r="8" fill="#fdb130" clip-path="url(#cc)"/>
<circle cx="488.47" cy="1453.9" r="8" fill="#fdb130" clip-path="url(#cc)"/>
<circle cx="595.56" cy="1461.83" r="8" fill="#fdb130" clip-path="url(#cc)"/>
<line x1="172.5" y1="1162.95" x2="172.5" y2="1577.3" stroke="#6666ff" stroke-width="4.8" clip-path="url(#cc)" stroke-dasharray="17.2 7.35"/>
<rect x="113.65" y="1166.4" width="535.45" height="380.9" fill="none" stroke="#000" stroke-width="2.7"/>
<line x1="102.95" y1="1547.3" x2="113.65" y2="1547.3" stroke="#000" stroke-width="2.7"/>
<text transform="translate(76.63 1559.2) scale(0.9167 1)" xml:space="preserve"><tspan x="0" y="0" font-size="30.5" font-family='"Liberation Sans", sans-serif'>0</tspan></text>
<line x1="102.95" y1="1471.12" x2="113.65" y2="1471.12" stroke="#000" stroke-width="2.7"/>
<text transform="translate(61.39 1483.02) scale(0.9082 1)" xml:space="preserve"><tspan x="0" y="0" font-size="30.5" font-family='"Liberation Sans", sans-serif'>50</tspan></text>
<line x1="102.95" y1="1394.94" x2="113.65" y2="1394.94" stroke="#000" stroke-width="2.7"/>
<text transform="translate(45.14 1406.84) scale(0.9246 1)" xml:space="preserve"><tspan x="0" y="0" font-size="30.5" font-family='"Liberation Sans", sans-serif'>100</tspan></text>
<line x1="102.95" y1="1318.76" x2="113.65" y2="1318.76" stroke="#000" stroke-width="2.7"/>
<text transform="translate(45.14 1330.66) scale(0.9246 1)" xml:space="preserve"><tspan x="0" y="0" font-size="30.5" font-family='"Liberation Sans", sans-serif'>150</tspan></text>
<line x1="102.95" y1="1242.58" x2="113.65" y2="1242.58" stroke="#000" stroke-width="2.7"/>
<text transform="translate(45.86 1254.48) scale(0.9099 1)" xml:space="preserve"><tspan x="0" y="0" font-size="30.5" font-family='"Liberation Sans", sans-serif'>200</tspan></text>
<line x1="102.95" y1="1166.4" x2="113.65" y2="1166.4" stroke="#000" stroke-width="2.7"/>
<text transform="translate(45.86 1178.3) scale(0.9099 1)" xml:space="preserve"><tspan x="0" y="0" font-size="30.5" font-family='"Liberation Sans", sans-serif'>250</tspan></text>
<line x1="113.65" y1="1547.3" x2="113.65" y2="1558" stroke="#000" stroke-width="2.7"/>
<text transform="translate(105.86 1591.2) scale(0.9167 1)" xml:space="preserve"><tspan x="0" y="0" font-size="30.5" font-family='"Liberation Sans", sans-serif'>0</tspan></text>
<line x1="220.74" y1="1547.3" x2="220.74" y2="1558" stroke="#000" stroke-width="2.7"/>
<text transform="translate(196.7 1591.2) scale(0.9246 1)" xml:space="preserve"><tspan x="0" y="0" font-size="30.5" font-family='"Liberation Sans", sans-serif'>100</tspan></text>
<line x1="327.83" y1="1547.3" x2="327.83" y2="1558" stroke="#000" stroke-width="2.7"/>
<text transform="translate(304.52 1591.2) scale(0.9099 1)" xml:space="preserve"><tspan x="0" y="0" font-size="30.5" font-family='"Liberation Sans", sans-serif'>200</tspan></text>
<line x1="434.92" y1="1547.3" x2="434.92" y2="1558" stroke="#000" stroke-width="2.7"/>
<text transform="translate(411.96 1591.2) scale(0.9028 1)" xml:space="preserve"><tspan x="0" y="0" font-size="30.5" font-family='"Liberation Sans", sans-serif'>300</tspan></text>
<line x1="542.01" y1="1547.3" x2="542.01" y2="1558" stroke="#000" stroke-width="2.7"/>
<text transform="translate(519.47 1591.2) scale(0.8944 1)" xml:space="preserve"><tspan x="0" y="0" font-size="30.5" font-family='"Liberation Sans", sans-serif'>400</tspan></text>
<line x1="649.1" y1="1547.3" x2="649.1" y2="1558" stroke="#000" stroke-width="2.7"/>
<text transform="translate(626.07 1591.2) scale(0.9042 1)" xml:space="preserve"><tspan x="0" y="0" font-size="30.5" font-family='"Liberation Sans", sans-serif'>500</tspan></text>
<rect x="319.85" y="1176.95" width="318.3" height="174.7" fill="#fff" stroke="#000" stroke-width="3.7"/>
<circle cx="345.4" cy="1197.1" r="7.9" fill="#fdb130"/>
<text transform="translate(412.84 1207.94) scale(1.0624 1)" xml:space="preserve"><tspan x="0" y="0" font-size="25.94" font-family='"Liberation Sans", sans-serif'>me</tspan></text>
<text transform="translate(450.65 1208) scale(0.9723 1)" xml:space="preserve"><tspan x="0" y="0" font-size="31.13" font-family='"Liberation Sans", sans-serif'>V</tspan></text>
<text transform="translate(372.18 1208) scale(0.9038 1)" xml:space="preserve"><tspan x="0" y="0" font-size="30.5" font-family='"Liberation Sans", sans-serif'>42</tspan></text>
<circle cx="345.4" cy="1239.95" r="7.9" fill="#f99a3e"/>
<text transform="translate(412.84 1250.79) scale(1.0624 1)" xml:space="preserve"><tspan x="0" y="0" font-size="25.94" font-family='"Liberation Sans", sans-serif'>me</tspan></text>
<text transform="translate(450.65 1250.85) scale(0.9723 1)" xml:space="preserve"><tspan x="0" y="0" font-size="31.13" font-family='"Liberation Sans", sans-serif'>V</tspan></text>
<text transform="translate(371.76 1250.85) scale(0.9126 1)" xml:space="preserve"><tspan x="0" y="0" font-size="30.5" font-family='"Liberation Sans", sans-serif'>39</tspan></text>
<circle cx="345.4" cy="1282.8" r="7.9" fill="#de5f65"/>
<text transform="translate(412.84 1293.64) scale(1.0624 1)" xml:space="preserve"><tspan x="0" y="0" font-size="25.94" font-family='"Liberation Sans", sans-serif'>me</tspan></text>
<text transform="translate(450.65 1293.7) scale(0.9723 1)" xml:space="preserve"><tspan x="0" y="0" font-size="31.13" font-family='"Liberation Sans", sans-serif'>V</tspan></text>
<text transform="translate(371.76 1293.7) scale(0.9060 1)" xml:space="preserve"><tspan x="0" y="0" font-size="30.5" font-family='"Liberation Sans", sans-serif'>30</tspan></text>
<circle cx="345.4" cy="1325.65" r="7.9" fill="#c33d80"/>
<text transform="translate(412.84 1336.49) scale(1.0624 1)" xml:space="preserve"><tspan x="0" y="0" font-size="25.94" font-family='"Liberation Sans", sans-serif'>me</tspan></text>
<text transform="translate(450.65 1336.55) scale(0.9723 1)" xml:space="preserve"><tspan x="0" y="0" font-size="31.13" font-family='"Liberation Sans", sans-serif'>V</tspan></text>
<text transform="translate(371.42 1336.55) scale(0.9082 1)" xml:space="preserve"><tspan x="0" y="0" font-size="30.5" font-family='"Liberation Sans", sans-serif'>24</tspan></text>
<circle cx="503.6" cy="1197.1" r="7.9" fill="#a01a9c"/>
<text transform="translate(570.54 1207.94) scale(1.0624 1)" xml:space="preserve"><tspan x="0" y="0" font-size="25.94" font-family='"Liberation Sans", sans-serif'>me</tspan></text>
<text transform="translate(608.35 1208) scale(0.9723 1)" xml:space="preserve"><tspan x="0" y="0" font-size="31.13" font-family='"Liberation Sans", sans-serif'>V</tspan></text>
<text transform="translate(528.34 1208) scale(0.9448 1)" xml:space="preserve"><tspan x="0" y="0" font-size="30.5" font-family='"Liberation Sans", sans-serif'>18</tspan></text>
<circle cx="503.6" cy="1239.95" r="7.9" fill="#8a09a5"/>
<text transform="translate(570.54 1250.79) scale(1.0624 1)" xml:space="preserve"><tspan x="0" y="0" font-size="25.94" font-family='"Liberation Sans", sans-serif'>me</tspan></text>
<text transform="translate(608.35 1250.85) scale(0.9723 1)" xml:space="preserve"><tspan x="0" y="0" font-size="31.13" font-family='"Liberation Sans", sans-serif'>V</tspan></text>
<text transform="translate(528.34 1250.85) scale(0.9424 1)" xml:space="preserve"><tspan x="0" y="0" font-size="30.5" font-family='"Liberation Sans", sans-serif'>15</tspan></text>
<circle cx="503.6" cy="1282.8" r="7.9" fill="#7401a8"/>
<text transform="translate(570.54 1293.64) scale(1.0624 1)" xml:space="preserve"><tspan x="0" y="0" font-size="25.94" font-family='"Liberation Sans", sans-serif'>me</tspan></text>
<text transform="translate(608.35 1293.7) scale(0.9723 1)" xml:space="preserve"><tspan x="0" y="0" font-size="31.13" font-family='"Liberation Sans", sans-serif'>V</tspan></text>
<text transform="translate(528.32 1293.7) scale(0.9520 1)" xml:space="preserve"><tspan x="0" y="0" font-size="30.5" font-family='"Liberation Sans", sans-serif'>12</tspan></text>
<circle cx="503.6" cy="1325.65" r="7.9" fill="#5c01a6"/>
<text transform="translate(570.54 1336.49) scale(1.0624 1)" xml:space="preserve"><tspan x="0" y="0" font-size="25.94" font-family='"Liberation Sans", sans-serif'>me</tspan></text>
<text transform="translate(608.35 1336.55) scale(0.9723 1)" xml:space="preserve"><tspan x="0" y="0" font-size="31.13" font-family='"Liberation Sans", sans-serif'>V</tspan></text>
<text transform="translate(544.38 1336.55) scale(0.9464 1)" xml:space="preserve"><tspan x="0" y="0" font-size="30.5" font-family='"Liberation Sans", sans-serif'>9</tspan></text>
<text transform="translate(44.98 1129.15) scale(0.9525 1)" xml:space="preserve"><tspan x="0" y="0" font-size="33.99" font-family='"Liberation Sans", sans-serif'>(</tspan></text>
<text transform="translate(56.38 1128.26) scale(1.1687 1)" xml:space="preserve"><tspan x="0" y="0" font-size="24.47" font-family='"Liberation Sans", sans-serif'>c</tspan></text>
<text transform="translate(72.57 1129.15) scale(0.9077 1)" xml:space="preserve"><tspan x="0" y="0" font-size="33.99" font-family='"Liberation Sans", sans-serif'>)</tspan></text>
<text transform="translate(340.38 1631.9) scale(1.1965 1)" xml:space="preserve"><tspan x="0" y="0" font-size="32.37" font-family='"Liberation Serif", serif' font-style="italic">T</tspan></text>
<text transform="translate(374.95 1632.67) scale(0.9668 1)" xml:space="preserve"><tspan x="0" y="0" font-size="33.89" font-family='"Liberation Sans", sans-serif'>(</tspan></text>
<text transform="translate(386.93 1631.5) scale(1.0277 1)" xml:space="preserve"><tspan x="0" y="0" font-size="30.25" font-family='"Liberation Sans", sans-serif'>K</tspan></text>
<text transform="translate(409.67 1632.67) scale(0.8881 1)" xml:space="preserve"><tspan x="0" y="0" font-size="33.89" font-family='"Liberation Sans", sans-serif'>)</tspan></text>
<g transform="rotate(-90)"><text transform="translate(-1472.39 33.39) scale(0.9163 1)" xml:space="preserve"><tspan x="0" y="0" font-size="21.48" font-family='"Liberation Sans", sans-serif'>0</tspan></text><text transform="translate(-1447.34 26.55) scale(1.0534 1)" xml:space="preserve"><tspan x="0" y="0" font-size="33.99" font-family='"Liberation Sans", sans-serif'>(</tspan></text><text transform="translate(-1433.8 25.86) scale(1.1681 1)" xml:space="preserve"><tspan x="0" y="0" font-size="29.48" font-family='"Liberation Serif", serif' font-style="italic">&#956;</tspan></text><text transform="translate(-1416.94 14.2) scale(1.1637 1)" xml:space="preserve"><tspan x="0" y="0" font-size="19.64" font-family='"Liberation Sans", sans-serif'>2</tspan></text><text transform="translate(-1415.18 34.44) scale(1.1061 1)" xml:space="preserve"><tspan x="0" y="0" font-size="25.1" font-family='"Liberation Serif", serif' font-style="italic">B</tspan></text><text transform="translate(-1385.71 25.93) scale(0.9747 1)" xml:space="preserve"><tspan x="0" y="0" font-size="26.85" font-family='"Liberation Sans", sans-serif'>e</tspan></text><text transform="translate(-1371.95 26) scale(0.9782 1)" xml:space="preserve"><tspan x="0" y="0" font-size="31.56" font-family='"Liberation Sans", sans-serif'>V</tspan></text><text transform="translate(-1350.49 14.7) scale(1.2539 1)" xml:space="preserve"><tspan x="0" y="0" font-size="20.65" font-family='"Liberation Sans", sans-serif'>&#8722;1</tspan></text><text transform="translate(-1308.24 25.6) scale(1.2006 1)" xml:space="preserve"><tspan x="0" y="0" font-size="30.17" font-family='"Liberation Sans", sans-serif'>f</tspan></text><text transform="translate(-1298.83 25.7) scale(1.0912 1)" xml:space="preserve"><tspan x="0" y="0" font-size="26.05" font-family='"Liberation Sans", sans-serif'>.</tspan></text><text transform="translate(-1290.27 25.64) scale(1.0331 1)" xml:space="preserve"><tspan x="0" y="0" font-size="26.42" font-family='"Liberation Sans", sans-serif'>u</tspan></text><text transform="translate(-1275.02 25.7) scale(1.1720 1)" xml:space="preserve"><tspan x="0" y="0" font-size="26.05" font-family='"Liberation Sans", sans-serif'>.</tspan></text><text transform="translate(-1265.39 14.7) scale(1.2539 1)" xml:space="preserve"><tspan x="0" y="0" font-size="20.65" font-family='"Liberation Sans", sans-serif'>&#8722;1</tspan></text><text transform="translate(-1232.13 26.55) scale(0.8965 1)" xml:space="preserve"><tspan x="0" y="0" font-size="33.99" font-family='"Liberation Sans", sans-serif'>)</tspan></text><g transform="rotate(90) translate(0 1104.9)" fill="none" stroke="#000" stroke-linecap="round"><path d="M12.4 369.9 L31.3 386.1" stroke-width="1.5"/><path d="M12.8 385.5 C11.4 381.4 15.6 378.9 21.7 377.3 C27.5 375.6 33.2 373.6 30.4 369.8" stroke-width="2.5"/></g><path d="M3.6 1461 L13.2 1464.6" stroke="#000" stroke-width="2.3" stroke-linecap="round" transform="rotate(90)"/><path d="M3.6 1468.1 L13.2 1471.7" stroke="#000" stroke-width="2.3" stroke-linecap="round" transform="rotate(90)"/></g></svg></body></html>
